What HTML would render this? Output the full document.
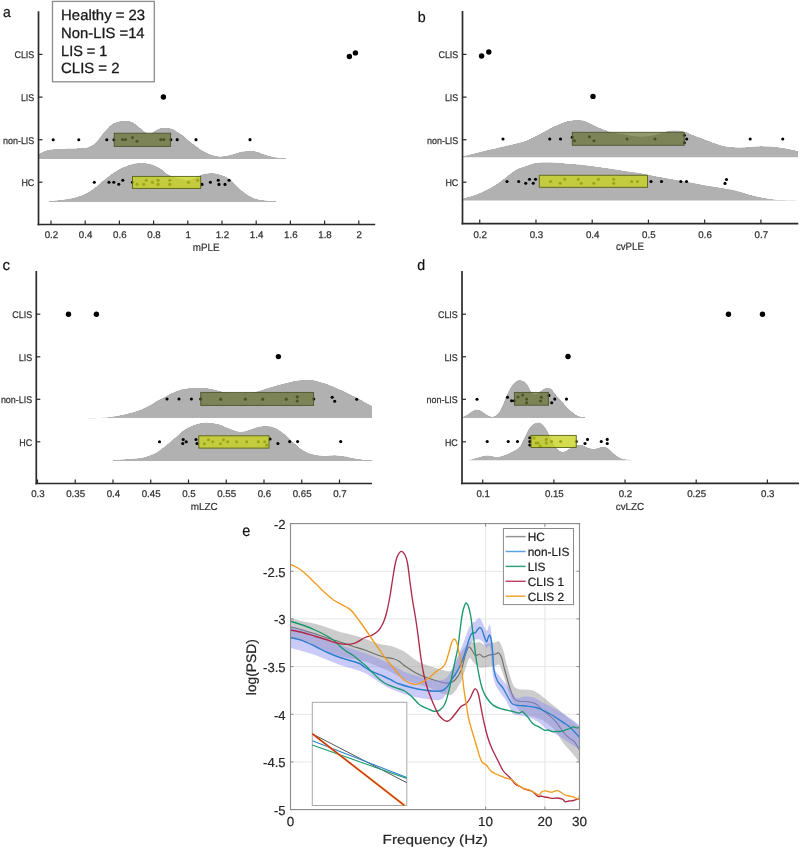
<!DOCTYPE html>
<html><head><meta charset="utf-8"><title>Figure</title>
<style>
html,body{margin:0;padding:0;background:#fff;}
body{width:800px;height:848px;overflow:hidden;}
svg{display:block;font-family:"Liberation Sans", sans-serif;will-change:transform;text-rendering:geometricPrecision;filter:blur(0.3px);}
</style></head><body>
<svg width="800" height="848" viewBox="0 0 800 848">
<rect width="800" height="848" fill="#fff"/>
<text transform="translate(3.1 16.9) scale(0.930 1)" font-size="15" fill="#111" text-anchor="start" stroke="#111" stroke-width="0.2">a</text>
<path d="M38.5 158.7 L38.5 154.5 C39.25 154.08 41.42 152.72 43 152 C44.58 151.28 46.33 150.62 48 150.2 C49.67 149.78 51 149.7 53 149.5 C55 149.3 57.17 149.13 60 149 C62.83 148.87 66.67 148.8 70 148.7 C73.33 148.6 77.33 148.52 80 148.4 C82.67 148.28 84.33 148.32 86 148 C87.67 147.68 88.83 147 90 146.5 C91.17 146 92 145.67 93 145 C94 144.33 95 143.5 96 142.5 C97 141.5 98 140.25 99 139 C100 137.75 101 136.25 102 135 C103 133.75 104 132.67 105 131.5 C106 130.33 107 129.05 108 128 C109 126.95 110 126 111 125.2 C112 124.4 112.83 123.77 114 123.2 C115.17 122.63 116.33 122.17 118 121.8 C119.67 121.43 122 121.05 124 121 C126 120.95 128.17 121 130 121.5 C131.83 122 133.33 122.92 135 124 C136.67 125.08 138.33 126.67 140 128 C141.67 129.33 143.33 131 145 132 C146.67 133 148.33 134.17 150 134 C151.67 133.83 153.33 131.92 155 131 C156.67 130.08 158.33 129 160 128.5 C161.67 128 163.33 128.02 165 128 C166.67 127.98 168.67 128.18 170 128.4 C171.33 128.62 172 128.83 173 129.3 C174 129.78 175 130.63 176 131.25 C177 131.87 178 132.38 179 133 C180 133.62 181 134.29 182 135 C183 135.71 184 136.38 185 137.25 C186 138.12 187 139.38 188 140.25 C189 141.12 190 141.75 191 142.5 C192 143.25 193 144 194 144.75 C195 145.5 196 146.25 197 147 C198 147.75 198.67 148.38 200 149.25 C201.33 150.12 203.33 151.38 205 152.25 C206.67 153.12 208.33 153.88 210 154.5 C211.67 155.12 213.33 155.62 215 156 C216.67 156.38 218.33 156.7 220 156.75 C221.67 156.8 223.33 156.55 225 156.3 C226.67 156.05 228.33 155.68 230 155.25 C231.67 154.82 233.33 154.25 235 153.75 C236.67 153.25 238.33 152.62 240 152.25 C241.67 151.88 243.33 151.68 245 151.5 C246.67 151.32 248.33 151.2 250 151.2 C251.67 151.2 253.33 151.2 255 151.5 C256.67 151.8 258.33 152.45 260 153 C261.67 153.55 263.33 154.25 265 154.8 C266.67 155.35 268.33 155.85 270 156.3 C271.67 156.75 273.33 157.22 275 157.5 C276.67 157.78 278.17 157.83 280 158 C281.83 158.17 285 158.42 286 158.5 L286 158.7 Z" fill="#b1b1b1"/>
<path d="M38.5 158.7 L38.5 154.5 C39.25 154.08 41.42 152.72 43 152 C44.58 151.28 46.33 150.62 48 150.2 C49.67 149.78 51 149.7 53 149.5 C55 149.3 57.17 149.13 60 149 C62.83 148.87 66.67 148.8 70 148.7 C73.33 148.6 77.33 148.52 80 148.4 C82.67 148.28 84.33 148.32 86 148 C87.67 147.68 88.83 147 90 146.5 C91.17 146 92 145.67 93 145 C94 144.33 95 143.5 96 142.5 C97 141.5 98 140.25 99 139 C100 137.75 101 136.25 102 135 C103 133.75 104 132.67 105 131.5 C106 130.33 107 129.05 108 128 C109 126.95 110 126 111 125.2 C112 124.4 112.83 123.77 114 123.2 C115.17 122.63 116.33 122.17 118 121.8 C119.67 121.43 122 121.05 124 121 C126 120.95 128.17 121 130 121.5 C131.83 122 133.33 122.92 135 124 C136.67 125.08 138.33 126.67 140 128 C141.67 129.33 143.33 131 145 132 C146.67 133 148.33 134.17 150 134 C151.67 133.83 153.33 131.92 155 131 C156.67 130.08 158.33 129 160 128.5 C161.67 128 163.33 128.02 165 128 C166.67 127.98 168.67 128.18 170 128.4 C171.33 128.62 172 128.83 173 129.3 C174 129.78 175 130.63 176 131.25 C177 131.87 178 132.38 179 133 C180 133.62 181 134.29 182 135 C183 135.71 184 136.38 185 137.25 C186 138.12 187 139.38 188 140.25 C189 141.12 190 141.75 191 142.5 C192 143.25 193 144 194 144.75 C195 145.5 196 146.25 197 147 C198 147.75 198.67 148.38 200 149.25 C201.33 150.12 203.33 151.38 205 152.25 C206.67 153.12 208.33 153.88 210 154.5 C211.67 155.12 213.33 155.62 215 156 C216.67 156.38 218.33 156.7 220 156.75 C221.67 156.8 223.33 156.55 225 156.3 C226.67 156.05 228.33 155.68 230 155.25 C231.67 154.82 233.33 154.25 235 153.75 C236.67 153.25 238.33 152.62 240 152.25 C241.67 151.88 243.33 151.68 245 151.5 C246.67 151.32 248.33 151.2 250 151.2 C251.67 151.2 253.33 151.2 255 151.5 C256.67 151.8 258.33 152.45 260 153 C261.67 153.55 263.33 154.25 265 154.8 C266.67 155.35 268.33 155.85 270 156.3 C271.67 156.75 273.33 157.22 275 157.5 C276.67 157.78 278.17 157.83 280 158 C281.83 158.17 285 158.42 286 158.5 L286 158.7 Z" fill="#b1b1b1" shape-rendering="crispEdges"/>
<path d="M49 201.5 L49 201.2 C50 201.13 53 200.97 55 200.8 C57 200.63 59 200.45 61 200.2 C63 199.95 65 199.62 67 199.3 C69 198.98 71 198.72 73 198.25 C75 197.78 77 197.18 79 196.5 C81 195.82 83 195.16 85 194.2 C87 193.24 89 192.07 91 190.75 C93 189.43 95 187.88 97 186.25 C99 184.62 101 182.68 103 181 C105 179.32 107 177.7 109 176.2 C111 174.7 113 173.28 115 172 C117 170.72 119 169.5 121 168.5 C123 167.5 125 166.72 127 166 C129 165.28 131 164.65 133 164.2 C135 163.75 137 163.45 139 163.3 C141 163.15 143 163.1 145 163.3 C147 163.5 149 163.93 151 164.5 C153 165.07 155.17 165.87 157 166.75 C158.83 167.63 160.5 168.73 162 169.8 C163.5 170.88 164.67 172.23 166 173.2 C167.33 174.17 168.33 174.8 170 175.6 C171.67 176.4 174 177.35 176 178 C178 178.65 180 179.17 182 179.5 C184 179.83 186 180.15 188 180 C190 179.85 192 179.33 194 178.6 C196 177.87 198.17 176.35 200 175.6 C201.83 174.85 203 174.48 205 174.1 C207 173.72 209.83 173.27 212 173.3 C214.17 173.33 216 173.81 218 174.3 C220 174.79 222 175.38 224 176.25 C226 177.12 228.17 178.14 230 179.5 C231.83 180.86 233.33 182.78 235 184.4 C236.67 186.03 238.33 187.77 240 189.25 C241.67 190.73 243.33 192.08 245 193.3 C246.67 194.53 248.33 195.7 250 196.6 C251.67 197.5 253 198.08 255 198.7 C257 199.32 259.5 199.9 262 200.3 C264.5 200.7 267.67 200.92 270 201.1 C272.33 201.28 275 201.35 276 201.4 L276 201.5 Z" fill="#b1b1b1"/>
<path d="M49 201.5 L49 201.2 C50 201.13 53 200.97 55 200.8 C57 200.63 59 200.45 61 200.2 C63 199.95 65 199.62 67 199.3 C69 198.98 71 198.72 73 198.25 C75 197.78 77 197.18 79 196.5 C81 195.82 83 195.16 85 194.2 C87 193.24 89 192.07 91 190.75 C93 189.43 95 187.88 97 186.25 C99 184.62 101 182.68 103 181 C105 179.32 107 177.7 109 176.2 C111 174.7 113 173.28 115 172 C117 170.72 119 169.5 121 168.5 C123 167.5 125 166.72 127 166 C129 165.28 131 164.65 133 164.2 C135 163.75 137 163.45 139 163.3 C141 163.15 143 163.1 145 163.3 C147 163.5 149 163.93 151 164.5 C153 165.07 155.17 165.87 157 166.75 C158.83 167.63 160.5 168.73 162 169.8 C163.5 170.88 164.67 172.23 166 173.2 C167.33 174.17 168.33 174.8 170 175.6 C171.67 176.4 174 177.35 176 178 C178 178.65 180 179.17 182 179.5 C184 179.83 186 180.15 188 180 C190 179.85 192 179.33 194 178.6 C196 177.87 198.17 176.35 200 175.6 C201.83 174.85 203 174.48 205 174.1 C207 173.72 209.83 173.27 212 173.3 C214.17 173.33 216 173.81 218 174.3 C220 174.79 222 175.38 224 176.25 C226 177.12 228.17 178.14 230 179.5 C231.83 180.86 233.33 182.78 235 184.4 C236.67 186.03 238.33 187.77 240 189.25 C241.67 190.73 243.33 192.08 245 193.3 C246.67 194.53 248.33 195.7 250 196.6 C251.67 197.5 253 198.08 255 198.7 C257 199.32 259.5 199.9 262 200.3 C264.5 200.7 267.67 200.92 270 201.1 C272.33 201.28 275 201.35 276 201.4 L276 201.5 Z" fill="#b1b1b1" shape-rendering="crispEdges"/>
<circle cx="53.2" cy="139.8" r="1.55" fill="#000"/>
<circle cx="78.8" cy="139.8" r="1.55" fill="#000"/>
<circle cx="106.8" cy="139.8" r="1.55" fill="#000"/>
<circle cx="114" cy="139.8" r="1.55" fill="#000"/>
<circle cx="122.5" cy="139.6" r="1.55" fill="#000"/>
<circle cx="125.5" cy="139.6" r="1.55" fill="#000"/>
<circle cx="132.5" cy="137.5" r="1.55" fill="#000"/>
<circle cx="137" cy="141.3" r="1.55" fill="#000"/>
<circle cx="160.75" cy="139.6" r="1.55" fill="#000"/>
<circle cx="163.75" cy="139.6" r="1.55" fill="#000"/>
<circle cx="170.75" cy="139.65" r="1.55" fill="#000"/>
<circle cx="177.2" cy="139.65" r="1.55" fill="#000"/>
<circle cx="196" cy="139.65" r="1.55" fill="#000"/>
<circle cx="250" cy="139.65" r="1.55" fill="#000"/>
<circle cx="94.3" cy="182.2" r="1.55" fill="#000"/>
<circle cx="109" cy="182.2" r="1.55" fill="#000"/>
<circle cx="113.8" cy="182.2" r="1.55" fill="#000"/>
<circle cx="118.75" cy="184.3" r="1.55" fill="#000"/>
<circle cx="122.8" cy="180.2" r="1.55" fill="#000"/>
<circle cx="132.5" cy="182.2" r="1.55" fill="#000"/>
<circle cx="137" cy="184.3" r="1.55" fill="#000"/>
<circle cx="143.75" cy="184.3" r="1.55" fill="#000"/>
<circle cx="146.25" cy="180.3" r="1.55" fill="#000"/>
<circle cx="152.4" cy="182.3" r="1.55" fill="#000"/>
<circle cx="158.1" cy="180.3" r="1.55" fill="#000"/>
<circle cx="158.1" cy="184.4" r="1.55" fill="#000"/>
<circle cx="169.8" cy="180.3" r="1.55" fill="#000"/>
<circle cx="169.8" cy="184.4" r="1.55" fill="#000"/>
<circle cx="188.5" cy="182.3" r="1.55" fill="#000"/>
<circle cx="197.6" cy="180.3" r="1.55" fill="#000"/>
<circle cx="202" cy="184.4" r="1.55" fill="#000"/>
<circle cx="210.4" cy="182.3" r="1.55" fill="#000"/>
<circle cx="218.25" cy="180.3" r="1.55" fill="#000"/>
<circle cx="219" cy="184.4" r="1.55" fill="#000"/>
<circle cx="225" cy="184.4" r="1.55" fill="#000"/>
<circle cx="229.1" cy="180.3" r="1.55" fill="#000"/>
<rect x="114.2" y="133.2" width="56.4" height="13.2" fill="rgba(102,114,53,0.72)" stroke="#4d5530" stroke-width="0.9"/>
<rect x="132.5" y="176.4" width="68.2" height="12" fill="rgba(200,210,30,0.78)" stroke="#5a6218" stroke-width="0.9"/>
<circle cx="349.4" cy="56.5" r="2.7" fill="#000"/>
<circle cx="355.4" cy="52.9" r="2.7" fill="#000"/>
<circle cx="163.4" cy="97" r="2.7" fill="#000"/>
<line x1="38.5" y1="11.3" x2="38.5" y2="225.35" stroke="#2a2a2a" stroke-width="1.7"/>
<line x1="37.65" y1="224.5" x2="375.2" y2="224.5" stroke="#2a2a2a" stroke-width="1.7"/>
<line x1="51" y1="224.5" x2="51" y2="220.5" stroke="#2a2a2a" stroke-width="1.2"/>
<text transform="translate(51.4 237.8) scale(1.000 1)" font-size="9.7" fill="#333" text-anchor="middle" stroke="#333" stroke-width="0.25">0.2</text>
<line x1="85.2" y1="224.5" x2="85.2" y2="220.5" stroke="#2a2a2a" stroke-width="1.2"/>
<text transform="translate(85.6 237.8) scale(1.000 1)" font-size="9.7" fill="#333" text-anchor="middle" stroke="#333" stroke-width="0.25">0.4</text>
<line x1="119.4" y1="224.5" x2="119.4" y2="220.5" stroke="#2a2a2a" stroke-width="1.2"/>
<text transform="translate(119.8 237.8) scale(1.000 1)" font-size="9.7" fill="#333" text-anchor="middle" stroke="#333" stroke-width="0.25">0.6</text>
<line x1="153.6" y1="224.5" x2="153.6" y2="220.5" stroke="#2a2a2a" stroke-width="1.2"/>
<text transform="translate(154 237.8) scale(1.000 1)" font-size="9.7" fill="#333" text-anchor="middle" stroke="#333" stroke-width="0.25">0.8</text>
<line x1="187.8" y1="224.5" x2="187.8" y2="220.5" stroke="#2a2a2a" stroke-width="1.2"/>
<text transform="translate(188.2 237.8) scale(1.000 1)" font-size="9.7" fill="#333" text-anchor="middle" stroke="#333" stroke-width="0.25">1</text>
<line x1="222" y1="224.5" x2="222" y2="220.5" stroke="#2a2a2a" stroke-width="1.2"/>
<text transform="translate(222.4 237.8) scale(1.000 1)" font-size="9.7" fill="#333" text-anchor="middle" stroke="#333" stroke-width="0.25">1.2</text>
<line x1="256.2" y1="224.5" x2="256.2" y2="220.5" stroke="#2a2a2a" stroke-width="1.2"/>
<text transform="translate(256.6 237.8) scale(1.000 1)" font-size="9.7" fill="#333" text-anchor="middle" stroke="#333" stroke-width="0.25">1.4</text>
<line x1="290.4" y1="224.5" x2="290.4" y2="220.5" stroke="#2a2a2a" stroke-width="1.2"/>
<text transform="translate(290.8 237.8) scale(1.000 1)" font-size="9.7" fill="#333" text-anchor="middle" stroke="#333" stroke-width="0.25">1.6</text>
<line x1="324.6" y1="224.5" x2="324.6" y2="220.5" stroke="#2a2a2a" stroke-width="1.2"/>
<text transform="translate(325 237.8) scale(1.000 1)" font-size="9.7" fill="#333" text-anchor="middle" stroke="#333" stroke-width="0.25">1.8</text>
<line x1="358.8" y1="224.5" x2="358.8" y2="220.5" stroke="#2a2a2a" stroke-width="1.2"/>
<text transform="translate(359.2 237.8) scale(1.000 1)" font-size="9.7" fill="#333" text-anchor="middle" stroke="#333" stroke-width="0.25">2</text>
<line x1="38.5" y1="54.4" x2="42.5" y2="54.4" stroke="#2a2a2a" stroke-width="1.2"/>
<text transform="translate(34.3 58.3) scale(0.920 1)" font-size="9.7" fill="#333" text-anchor="end" stroke="#333" stroke-width="0.25">CLIS</text>
<line x1="38.5" y1="97.1" x2="42.5" y2="97.1" stroke="#2a2a2a" stroke-width="1.2"/>
<text transform="translate(34.3 101) scale(0.920 1)" font-size="9.7" fill="#333" text-anchor="end" stroke="#333" stroke-width="0.25">LIS</text>
<line x1="38.5" y1="139.7" x2="42.5" y2="139.7" stroke="#2a2a2a" stroke-width="1.2"/>
<text transform="translate(34.3 143.6) scale(0.920 1)" font-size="9.7" fill="#333" text-anchor="end" stroke="#333" stroke-width="0.25">non-LIS</text>
<line x1="38.5" y1="182.2" x2="42.5" y2="182.2" stroke="#2a2a2a" stroke-width="1.2"/>
<text transform="translate(34.3 186.1) scale(0.920 1)" font-size="9.7" fill="#333" text-anchor="end" stroke="#333" stroke-width="0.25">HC</text>
<text transform="translate(192.8 250.6) scale(0.928 1)" font-size="10.6" fill="#333" text-anchor="start" stroke="#333" stroke-width="0.2">mPLE</text>
<rect x="52.5" y="1.4" width="101.8" height="80.4" fill="#fff" stroke="#8c8c8c" stroke-width="1.3"/>
<text transform="translate(61.1 19.7) scale(1.006 1)" font-size="14.8" fill="#1a1a1a" text-anchor="start" stroke="#1a1a1a" stroke-width="0.3">Healthy = 23</text>
<text transform="translate(61.1 37.8) scale(1.000 1)" font-size="14.8" fill="#1a1a1a" text-anchor="start" stroke="#1a1a1a" stroke-width="0.3">Non-LIS =14</text>
<text transform="translate(61.1 55.6) scale(0.979 1)" font-size="14.8" fill="#1a1a1a" text-anchor="start" stroke="#1a1a1a" stroke-width="0.3">LIS = 1</text>
<text transform="translate(61.1 73.2) scale(1.007 1)" font-size="14.8" fill="#1a1a1a" text-anchor="start" stroke="#1a1a1a" stroke-width="0.3">CLIS = 2</text>
<text transform="translate(417.7 21.8) scale(0.950 1)" font-size="15" fill="#111" text-anchor="start" stroke="#111" stroke-width="0.2">b</text>
<path d="M462.5 157.2 L462.5 156.4 C464.08 156.05 469.08 155 472 154.3 C474.92 153.6 477 152.95 480 152.2 C483 151.45 486.67 150.58 490 149.8 C493.33 149.02 496.67 148.25 500 147.5 C503.33 146.75 506.67 146.09 510 145.3 C513.33 144.51 517.17 143.55 520 142.75 C522.83 141.95 524.5 141.5 527 140.5 C529.5 139.5 532.5 138 535 136.75 C537.5 135.5 539.67 134.25 542 133 C544.33 131.75 546.83 130.38 549 129.25 C551.17 128.12 552.83 127.25 555 126.25 C557.17 125.25 559.83 124.08 562 123.25 C564.17 122.42 565.83 121.8 568 121.3 C570.17 120.8 572.67 120.37 575 120.25 C577.33 120.13 579.83 120.21 582 120.6 C584.17 120.99 586 121.78 588 122.6 C590 123.42 592 124.55 594 125.5 C596 126.45 598 127.45 600 128.3 C602 129.15 604.17 129.92 606 130.6 C607.83 131.28 608.25 131.78 611 132.4 C613.75 133.02 618.83 133.65 622.5 134.3 C626.17 134.95 629.75 135.89 633 136.3 C636.25 136.71 639 136.8 642 136.75 C645 136.7 648 136.5 651 136 C654 135.5 657.17 134.55 660 133.75 C662.83 132.95 665.5 131.7 668 131.2 C670.5 130.7 672.83 130.75 675 130.75 C677.17 130.75 679 130.89 681 131.2 C683 131.51 685.5 132.1 687 132.6 C688.5 133.1 688.67 133.63 690 134.2 C691.33 134.77 693.33 135.4 695 136 C696.67 136.6 698.33 137.18 700 137.8 C701.67 138.43 703.33 139.1 705 139.75 C706.67 140.4 708.33 141.07 710 141.7 C711.67 142.32 713.33 142.9 715 143.5 C716.67 144.1 718.33 144.8 720 145.3 C721.67 145.8 723.33 146.18 725 146.5 C726.67 146.82 727.5 147.05 730 147.25 C732.5 147.45 736.67 147.7 740 147.7 C743.33 147.7 746.67 147.45 750 147.25 C753.33 147.05 756.67 146.57 760 146.5 C763.33 146.43 766.67 146.6 770 146.8 C773.33 147 776.67 147.25 780 147.7 C783.33 148.15 787.04 148.92 790 149.5 C792.96 150.08 796.46 150.92 797.75 151.2 L797.75 157.2 Z" fill="#b1b1b1"/>
<path d="M462.5 157.2 L462.5 156.4 C464.08 156.05 469.08 155 472 154.3 C474.92 153.6 477 152.95 480 152.2 C483 151.45 486.67 150.58 490 149.8 C493.33 149.02 496.67 148.25 500 147.5 C503.33 146.75 506.67 146.09 510 145.3 C513.33 144.51 517.17 143.55 520 142.75 C522.83 141.95 524.5 141.5 527 140.5 C529.5 139.5 532.5 138 535 136.75 C537.5 135.5 539.67 134.25 542 133 C544.33 131.75 546.83 130.38 549 129.25 C551.17 128.12 552.83 127.25 555 126.25 C557.17 125.25 559.83 124.08 562 123.25 C564.17 122.42 565.83 121.8 568 121.3 C570.17 120.8 572.67 120.37 575 120.25 C577.33 120.13 579.83 120.21 582 120.6 C584.17 120.99 586 121.78 588 122.6 C590 123.42 592 124.55 594 125.5 C596 126.45 598 127.45 600 128.3 C602 129.15 604.17 129.92 606 130.6 C607.83 131.28 608.25 131.78 611 132.4 C613.75 133.02 618.83 133.65 622.5 134.3 C626.17 134.95 629.75 135.89 633 136.3 C636.25 136.71 639 136.8 642 136.75 C645 136.7 648 136.5 651 136 C654 135.5 657.17 134.55 660 133.75 C662.83 132.95 665.5 131.7 668 131.2 C670.5 130.7 672.83 130.75 675 130.75 C677.17 130.75 679 130.89 681 131.2 C683 131.51 685.5 132.1 687 132.6 C688.5 133.1 688.67 133.63 690 134.2 C691.33 134.77 693.33 135.4 695 136 C696.67 136.6 698.33 137.18 700 137.8 C701.67 138.43 703.33 139.1 705 139.75 C706.67 140.4 708.33 141.07 710 141.7 C711.67 142.32 713.33 142.9 715 143.5 C716.67 144.1 718.33 144.8 720 145.3 C721.67 145.8 723.33 146.18 725 146.5 C726.67 146.82 727.5 147.05 730 147.25 C732.5 147.45 736.67 147.7 740 147.7 C743.33 147.7 746.67 147.45 750 147.25 C753.33 147.05 756.67 146.57 760 146.5 C763.33 146.43 766.67 146.6 770 146.8 C773.33 147 776.67 147.25 780 147.7 C783.33 148.15 787.04 148.92 790 149.5 C792.96 150.08 796.46 150.92 797.75 151.2 L797.75 157.2 Z" fill="#b1b1b1" shape-rendering="crispEdges"/>
<path d="M462.5 200.4 L462.5 199 C463.42 198.72 466.08 197.88 468 197.3 C469.92 196.72 472 196.18 474 195.5 C476 194.82 478 194.12 480 193.25 C482 192.38 484 191.25 486 190.25 C488 189.25 490 188.38 492 187.25 C494 186.12 496 184.88 498 183.5 C500 182.12 502 180.55 504 179 C506 177.45 508 175.7 510 174.2 C512 172.7 514 171.12 516 170 C518 168.88 520 168.27 522 167.5 C524 166.73 526 166.07 528 165.4 C530 164.73 532 163.93 534 163.5 C536 163.07 538 162.97 540 162.8 C542 162.63 543.5 162.5 546 162.5 C548.5 162.5 552 162.63 555 162.8 C558 162.97 561 163.25 564 163.5 C567 163.75 570 164.03 573 164.3 C576 164.57 578.33 164.7 582 165.1 C585.67 165.5 590.33 166.08 595 166.7 C599.67 167.32 605 168.05 610 168.8 C615 169.55 620 170.45 625 171.2 C630 171.95 635.83 172.62 640 173.3 C644.17 173.98 646.67 174.6 650 175.25 C653.33 175.9 656.67 176.57 660 177.2 C663.33 177.82 666.67 178.4 670 179 C673.33 179.6 676.67 180.2 680 180.8 C683.33 181.4 686.67 181.97 690 182.6 C693.33 183.23 696.67 183.98 700 184.6 C703.33 185.22 706.67 185.75 710 186.3 C713.33 186.85 716.67 187.35 720 187.9 C723.33 188.45 726.67 188.92 730 189.6 C733.33 190.28 736.67 191.1 740 192 C743.33 192.9 746.67 194.1 750 195 C753.33 195.9 756.67 196.7 760 197.4 C763.33 198.1 766.67 198.75 770 199.2 C773.33 199.65 775.5 199.9 780 200.1 C784.5 200.3 794.17 200.35 797 200.4 L797 200.4 Z" fill="#b1b1b1"/>
<path d="M462.5 200.4 L462.5 199 C463.42 198.72 466.08 197.88 468 197.3 C469.92 196.72 472 196.18 474 195.5 C476 194.82 478 194.12 480 193.25 C482 192.38 484 191.25 486 190.25 C488 189.25 490 188.38 492 187.25 C494 186.12 496 184.88 498 183.5 C500 182.12 502 180.55 504 179 C506 177.45 508 175.7 510 174.2 C512 172.7 514 171.12 516 170 C518 168.88 520 168.27 522 167.5 C524 166.73 526 166.07 528 165.4 C530 164.73 532 163.93 534 163.5 C536 163.07 538 162.97 540 162.8 C542 162.63 543.5 162.5 546 162.5 C548.5 162.5 552 162.63 555 162.8 C558 162.97 561 163.25 564 163.5 C567 163.75 570 164.03 573 164.3 C576 164.57 578.33 164.7 582 165.1 C585.67 165.5 590.33 166.08 595 166.7 C599.67 167.32 605 168.05 610 168.8 C615 169.55 620 170.45 625 171.2 C630 171.95 635.83 172.62 640 173.3 C644.17 173.98 646.67 174.6 650 175.25 C653.33 175.9 656.67 176.57 660 177.2 C663.33 177.82 666.67 178.4 670 179 C673.33 179.6 676.67 180.2 680 180.8 C683.33 181.4 686.67 181.97 690 182.6 C693.33 183.23 696.67 183.98 700 184.6 C703.33 185.22 706.67 185.75 710 186.3 C713.33 186.85 716.67 187.35 720 187.9 C723.33 188.45 726.67 188.92 730 189.6 C733.33 190.28 736.67 191.1 740 192 C743.33 192.9 746.67 194.1 750 195 C753.33 195.9 756.67 196.7 760 197.4 C763.33 198.1 766.67 198.75 770 199.2 C773.33 199.65 775.5 199.9 780 200.1 C784.5 200.3 794.17 200.35 797 200.4 L797 200.4 Z" fill="#b1b1b1" shape-rendering="crispEdges"/>
<circle cx="503" cy="139" r="1.55" fill="#000"/>
<circle cx="549.75" cy="139" r="1.55" fill="#000"/>
<circle cx="560.5" cy="139" r="1.55" fill="#000"/>
<circle cx="572.25" cy="137.2" r="1.55" fill="#000"/>
<circle cx="574.5" cy="140.8" r="1.55" fill="#000"/>
<circle cx="589.5" cy="136.75" r="1.55" fill="#000"/>
<circle cx="594" cy="140.8" r="1.55" fill="#000"/>
<circle cx="627" cy="139" r="1.55" fill="#000"/>
<circle cx="655" cy="139" r="1.55" fill="#000"/>
<circle cx="684.3" cy="135.25" r="1.55" fill="#000"/>
<circle cx="684.3" cy="142.75" r="1.55" fill="#000"/>
<circle cx="686.7" cy="139" r="1.55" fill="#000"/>
<circle cx="750.2" cy="139" r="1.55" fill="#000"/>
<circle cx="782.75" cy="139" r="1.55" fill="#000"/>
<circle cx="507" cy="181.5" r="1.55" fill="#000"/>
<circle cx="518.7" cy="181.5" r="1.55" fill="#000"/>
<circle cx="525.75" cy="183.2" r="1.55" fill="#000"/>
<circle cx="529.5" cy="179.3" r="1.55" fill="#000"/>
<circle cx="533.25" cy="183.2" r="1.55" fill="#000"/>
<circle cx="535.5" cy="179.3" r="1.55" fill="#000"/>
<circle cx="550.5" cy="181.5" r="1.55" fill="#000"/>
<circle cx="560.25" cy="183.2" r="1.55" fill="#000"/>
<circle cx="564.75" cy="179.3" r="1.55" fill="#000"/>
<circle cx="578.25" cy="179.3" r="1.55" fill="#000"/>
<circle cx="581.2" cy="183.2" r="1.55" fill="#000"/>
<circle cx="593.8" cy="183.2" r="1.55" fill="#000"/>
<circle cx="598.3" cy="179.3" r="1.55" fill="#000"/>
<circle cx="613.75" cy="179.3" r="1.55" fill="#000"/>
<circle cx="613.75" cy="183.2" r="1.55" fill="#000"/>
<circle cx="631.75" cy="181.5" r="1.55" fill="#000"/>
<circle cx="637.5" cy="181.5" r="1.55" fill="#000"/>
<circle cx="651" cy="181.5" r="1.55" fill="#000"/>
<circle cx="661.5" cy="181.5" r="1.55" fill="#000"/>
<circle cx="680.8" cy="181.5" r="1.55" fill="#000"/>
<circle cx="686.5" cy="181.5" r="1.55" fill="#000"/>
<circle cx="726.5" cy="179.5" r="1.55" fill="#000"/>
<circle cx="725" cy="183.4" r="1.55" fill="#000"/>
<rect x="572.25" y="132.3" width="111.95" height="13" fill="rgba(102,114,53,0.72)" stroke="#4d5530" stroke-width="0.9"/>
<rect x="539.25" y="175.25" width="108.25" height="12.05" fill="rgba(200,210,30,0.78)" stroke="#5a6218" stroke-width="0.9"/>
<circle cx="481.6" cy="56" r="2.7" fill="#000"/>
<circle cx="488.8" cy="52" r="2.7" fill="#000"/>
<circle cx="593" cy="96.4" r="2.7" fill="#000"/>
<line x1="462.5" y1="11" x2="462.5" y2="224.45" stroke="#2a2a2a" stroke-width="1.7"/>
<line x1="461.65" y1="223.6" x2="798.3" y2="223.6" stroke="#2a2a2a" stroke-width="1.7"/>
<line x1="479.75" y1="223.6" x2="479.75" y2="219.6" stroke="#2a2a2a" stroke-width="1.2"/>
<text transform="translate(480.15 237.5) scale(1.000 1)" font-size="9.7" fill="#333" text-anchor="middle" stroke="#333" stroke-width="0.25">0.2</text>
<line x1="535.98" y1="223.6" x2="535.98" y2="219.6" stroke="#2a2a2a" stroke-width="1.2"/>
<text transform="translate(536.38 237.5) scale(1.000 1)" font-size="9.7" fill="#333" text-anchor="middle" stroke="#333" stroke-width="0.25">0.3</text>
<line x1="592.21" y1="223.6" x2="592.21" y2="219.6" stroke="#2a2a2a" stroke-width="1.2"/>
<text transform="translate(592.61 237.5) scale(1.000 1)" font-size="9.7" fill="#333" text-anchor="middle" stroke="#333" stroke-width="0.25">0.4</text>
<line x1="648.44" y1="223.6" x2="648.44" y2="219.6" stroke="#2a2a2a" stroke-width="1.2"/>
<text transform="translate(648.84 237.5) scale(1.000 1)" font-size="9.7" fill="#333" text-anchor="middle" stroke="#333" stroke-width="0.25">0.5</text>
<line x1="704.67" y1="223.6" x2="704.67" y2="219.6" stroke="#2a2a2a" stroke-width="1.2"/>
<text transform="translate(705.07 237.5) scale(1.000 1)" font-size="9.7" fill="#333" text-anchor="middle" stroke="#333" stroke-width="0.25">0.6</text>
<line x1="760.9" y1="223.6" x2="760.9" y2="219.6" stroke="#2a2a2a" stroke-width="1.2"/>
<text transform="translate(761.3 237.5) scale(1.000 1)" font-size="9.7" fill="#333" text-anchor="middle" stroke="#333" stroke-width="0.25">0.7</text>
<line x1="462.5" y1="54.4" x2="466.5" y2="54.4" stroke="#2a2a2a" stroke-width="1.2"/>
<text transform="translate(458.3 58.3) scale(0.920 1)" font-size="9.7" fill="#333" text-anchor="end" stroke="#333" stroke-width="0.25">CLIS</text>
<line x1="462.5" y1="97.1" x2="466.5" y2="97.1" stroke="#2a2a2a" stroke-width="1.2"/>
<text transform="translate(458.3 101) scale(0.920 1)" font-size="9.7" fill="#333" text-anchor="end" stroke="#333" stroke-width="0.25">LIS</text>
<line x1="462.5" y1="139.7" x2="466.5" y2="139.7" stroke="#2a2a2a" stroke-width="1.2"/>
<text transform="translate(458.3 143.6) scale(0.920 1)" font-size="9.7" fill="#333" text-anchor="end" stroke="#333" stroke-width="0.25">non-LIS</text>
<line x1="462.5" y1="182.2" x2="466.5" y2="182.2" stroke="#2a2a2a" stroke-width="1.2"/>
<text transform="translate(458.3 186.1) scale(0.920 1)" font-size="9.7" fill="#333" text-anchor="end" stroke="#333" stroke-width="0.25">HC</text>
<text transform="translate(615.9 249.9) scale(0.914 1)" font-size="10.6" fill="#333" text-anchor="start" stroke="#333" stroke-width="0.2">cvPLE</text>
<text transform="translate(2.4 269.5) scale(1.000 1)" font-size="15" fill="#111" text-anchor="start" stroke="#111" stroke-width="0.2">c</text>
<path d="M88 418 L88 418.3 C90 418.25 96.33 418.17 100 418 C103.67 417.83 107.33 417.59 110 417.3 C112.67 417.01 114 416.6 116 416.25 C118 415.9 120 415.62 122 415.2 C124 414.77 126 414.2 128 413.7 C130 413.2 132 412.77 134 412.2 C136 411.62 138 411.07 140 410.25 C142 409.43 144 408.25 146 407.25 C148 406.25 150 405.38 152 404.25 C154 403.12 156 401.62 158 400.5 C160 399.38 162 398.55 164 397.5 C166 396.45 168 395.2 170 394.2 C172 393.2 174 392.28 176 391.5 C178 390.72 180 390 182 389.5 C184 389 186 388.75 188 388.5 C190 388.25 192 388.08 194 388 C196 387.92 198 387.97 200 388 C202 388.03 204 387.99 206 388.2 C208 388.41 210 388.82 212 389.25 C214 389.68 216 390.24 218 390.75 C220 391.26 221.67 391.88 224 392.3 C226.33 392.73 229 393.1 232 393.3 C235 393.5 239 393.55 242 393.5 C245 393.45 247.83 393.21 250 393 C252.17 392.79 253.33 392.62 255 392.25 C256.67 391.88 258.17 391.32 260 390.75 C261.83 390.18 264 389.43 266 388.8 C268 388.18 270 387.6 272 387 C274 386.4 276 385.75 278 385.2 C280 384.65 282 384.2 284 383.7 C286 383.2 288 382.65 290 382.2 C292 381.75 294 381.32 296 381 C298 380.68 300 380.45 302 380.3 C304 380.15 306 380.08 308 380.1 C310 380.12 312 380.05 314 380.4 C316 380.75 318.17 381.68 320 382.2 C321.83 382.72 323.33 382.95 325 383.5 C326.67 384.05 328.33 384.83 330 385.5 C331.67 386.17 333.33 386.78 335 387.5 C336.67 388.22 338.33 389.05 340 389.8 C341.67 390.55 343.33 391.22 345 392 C346.67 392.78 348.33 393.67 350 394.5 C351.67 395.33 353.33 396.17 355 397 C356.67 397.83 358.33 398.58 360 399.5 C361.67 400.42 363.03 401.42 365 402.5 C366.97 403.58 370.67 405.42 371.8 406 L371.8 418 Z" fill="#b1b1b1"/>
<path d="M88 418 L88 418.3 C90 418.25 96.33 418.17 100 418 C103.67 417.83 107.33 417.59 110 417.3 C112.67 417.01 114 416.6 116 416.25 C118 415.9 120 415.62 122 415.2 C124 414.77 126 414.2 128 413.7 C130 413.2 132 412.77 134 412.2 C136 411.62 138 411.07 140 410.25 C142 409.43 144 408.25 146 407.25 C148 406.25 150 405.38 152 404.25 C154 403.12 156 401.62 158 400.5 C160 399.38 162 398.55 164 397.5 C166 396.45 168 395.2 170 394.2 C172 393.2 174 392.28 176 391.5 C178 390.72 180 390 182 389.5 C184 389 186 388.75 188 388.5 C190 388.25 192 388.08 194 388 C196 387.92 198 387.97 200 388 C202 388.03 204 387.99 206 388.2 C208 388.41 210 388.82 212 389.25 C214 389.68 216 390.24 218 390.75 C220 391.26 221.67 391.88 224 392.3 C226.33 392.73 229 393.1 232 393.3 C235 393.5 239 393.55 242 393.5 C245 393.45 247.83 393.21 250 393 C252.17 392.79 253.33 392.62 255 392.25 C256.67 391.88 258.17 391.32 260 390.75 C261.83 390.18 264 389.43 266 388.8 C268 388.18 270 387.6 272 387 C274 386.4 276 385.75 278 385.2 C280 384.65 282 384.2 284 383.7 C286 383.2 288 382.65 290 382.2 C292 381.75 294 381.32 296 381 C298 380.68 300 380.45 302 380.3 C304 380.15 306 380.08 308 380.1 C310 380.12 312 380.05 314 380.4 C316 380.75 318.17 381.68 320 382.2 C321.83 382.72 323.33 382.95 325 383.5 C326.67 384.05 328.33 384.83 330 385.5 C331.67 386.17 333.33 386.78 335 387.5 C336.67 388.22 338.33 389.05 340 389.8 C341.67 390.55 343.33 391.22 345 392 C346.67 392.78 348.33 393.67 350 394.5 C351.67 395.33 353.33 396.17 355 397 C356.67 397.83 358.33 398.58 360 399.5 C361.67 400.42 363.03 401.42 365 402.5 C366.97 403.58 370.67 405.42 371.8 406 L371.8 418 Z" fill="#b1b1b1" shape-rendering="crispEdges"/>
<path d="M113 460.5 L113 460.2 C115 460.08 121.33 459.73 125 459.5 C128.67 459.27 132.5 459.02 135 458.8 C137.5 458.58 138.17 458.5 140 458.2 C141.83 457.9 144 457.57 146 457 C148 456.43 150 455.62 152 454.75 C154 453.88 156 453 158 451.75 C160 450.5 162 448.82 164 447.25 C166 445.68 168 443.98 170 442.3 C172 440.62 174 438.95 176 437.2 C178 435.45 180 433.38 182 431.8 C184 430.23 186 428.85 188 427.75 C190 426.65 192 425.91 194 425.2 C196 424.49 198 423.9 200 423.5 C202 423.1 204 422.84 206 422.8 C208 422.76 210 423 212 423.25 C214 423.5 216 423.76 218 424.3 C220 424.84 222 425.72 224 426.5 C226 427.28 228.17 428.25 230 429 C231.83 429.75 233.33 430.52 235 431 C236.67 431.48 238.33 431.82 240 431.9 C241.67 431.98 243.33 431.82 245 431.5 C246.67 431.18 248.33 430.57 250 430 C251.67 429.43 253.33 428.63 255 428.1 C256.67 427.57 258.33 427.11 260 426.8 C261.67 426.49 263.33 426.28 265 426.25 C266.67 426.22 268.33 426.29 270 426.6 C271.67 426.91 273.33 427.37 275 428.1 C276.67 428.83 278.33 429.9 280 431 C281.67 432.1 283.33 433.3 285 434.7 C286.67 436.1 288.33 437.85 290 439.4 C291.67 440.95 293.33 442.5 295 444 C296.67 445.5 298.33 447.13 300 448.4 C301.67 449.67 303.33 450.7 305 451.6 C306.67 452.5 308.33 453.23 310 453.8 C311.67 454.37 313.33 454.68 315 455 C316.67 455.32 318.33 455.55 320 455.7 C321.67 455.85 323.33 455.9 325 455.9 C326.67 455.9 328.33 455.77 330 455.7 C331.67 455.63 333.33 455.47 335 455.5 C336.67 455.53 338.33 455.72 340 455.9 C341.67 456.08 343.33 456.29 345 456.6 C346.67 456.91 348.33 457.4 350 457.75 C351.67 458.1 353.33 458.43 355 458.7 C356.67 458.97 358.33 459.18 360 459.4 C361.67 459.62 363 459.85 365 460 C367 460.15 370.83 460.25 372 460.3 L372 460.5 Z" fill="#b1b1b1"/>
<path d="M113 460.5 L113 460.2 C115 460.08 121.33 459.73 125 459.5 C128.67 459.27 132.5 459.02 135 458.8 C137.5 458.58 138.17 458.5 140 458.2 C141.83 457.9 144 457.57 146 457 C148 456.43 150 455.62 152 454.75 C154 453.88 156 453 158 451.75 C160 450.5 162 448.82 164 447.25 C166 445.68 168 443.98 170 442.3 C172 440.62 174 438.95 176 437.2 C178 435.45 180 433.38 182 431.8 C184 430.23 186 428.85 188 427.75 C190 426.65 192 425.91 194 425.2 C196 424.49 198 423.9 200 423.5 C202 423.1 204 422.84 206 422.8 C208 422.76 210 423 212 423.25 C214 423.5 216 423.76 218 424.3 C220 424.84 222 425.72 224 426.5 C226 427.28 228.17 428.25 230 429 C231.83 429.75 233.33 430.52 235 431 C236.67 431.48 238.33 431.82 240 431.9 C241.67 431.98 243.33 431.82 245 431.5 C246.67 431.18 248.33 430.57 250 430 C251.67 429.43 253.33 428.63 255 428.1 C256.67 427.57 258.33 427.11 260 426.8 C261.67 426.49 263.33 426.28 265 426.25 C266.67 426.22 268.33 426.29 270 426.6 C271.67 426.91 273.33 427.37 275 428.1 C276.67 428.83 278.33 429.9 280 431 C281.67 432.1 283.33 433.3 285 434.7 C286.67 436.1 288.33 437.85 290 439.4 C291.67 440.95 293.33 442.5 295 444 C296.67 445.5 298.33 447.13 300 448.4 C301.67 449.67 303.33 450.7 305 451.6 C306.67 452.5 308.33 453.23 310 453.8 C311.67 454.37 313.33 454.68 315 455 C316.67 455.32 318.33 455.55 320 455.7 C321.67 455.85 323.33 455.9 325 455.9 C326.67 455.9 328.33 455.77 330 455.7 C331.67 455.63 333.33 455.47 335 455.5 C336.67 455.53 338.33 455.72 340 455.9 C341.67 456.08 343.33 456.29 345 456.6 C346.67 456.91 348.33 457.4 350 457.75 C351.67 458.1 353.33 458.43 355 458.7 C356.67 458.97 358.33 459.18 360 459.4 C361.67 459.62 363 459.85 365 460 C367 460.15 370.83 460.25 372 460.3 L372 460.5 Z" fill="#b1b1b1" shape-rendering="crispEdges"/>
<circle cx="167" cy="399" r="1.55" fill="#000"/>
<circle cx="179" cy="399" r="1.55" fill="#000"/>
<circle cx="191.4" cy="399" r="1.55" fill="#000"/>
<circle cx="200.75" cy="399" r="1.55" fill="#000"/>
<circle cx="220.7" cy="399.15" r="1.55" fill="#000"/>
<circle cx="245.4" cy="399.15" r="1.55" fill="#000"/>
<circle cx="262.7" cy="399.15" r="1.55" fill="#000"/>
<circle cx="286.25" cy="399.15" r="1.55" fill="#000"/>
<circle cx="297.2" cy="396.9" r="1.55" fill="#000"/>
<circle cx="297.2" cy="401" r="1.55" fill="#000"/>
<circle cx="313.7" cy="399" r="1.55" fill="#000"/>
<circle cx="332.2" cy="397.2" r="1.55" fill="#000"/>
<circle cx="334.7" cy="401.2" r="1.55" fill="#000"/>
<circle cx="356.7" cy="399.2" r="1.55" fill="#000"/>
<circle cx="159.5" cy="441.7" r="1.55" fill="#000"/>
<circle cx="183.2" cy="439.45" r="1.55" fill="#000"/>
<circle cx="182.75" cy="443.5" r="1.55" fill="#000"/>
<circle cx="186.2" cy="441.7" r="1.55" fill="#000"/>
<circle cx="196" cy="439.45" r="1.55" fill="#000"/>
<circle cx="197" cy="443.5" r="1.55" fill="#000"/>
<circle cx="204.3" cy="443.8" r="1.55" fill="#000"/>
<circle cx="208.5" cy="439.7" r="1.55" fill="#000"/>
<circle cx="212.7" cy="441.7" r="1.55" fill="#000"/>
<circle cx="220.5" cy="443.8" r="1.55" fill="#000"/>
<circle cx="223.5" cy="439.7" r="1.55" fill="#000"/>
<circle cx="227.7" cy="441.7" r="1.55" fill="#000"/>
<circle cx="236.7" cy="441.7" r="1.55" fill="#000"/>
<circle cx="246.7" cy="441.7" r="1.55" fill="#000"/>
<circle cx="258.3" cy="441.7" r="1.55" fill="#000"/>
<circle cx="264.7" cy="441.7" r="1.55" fill="#000"/>
<circle cx="266.7" cy="445" r="1.55" fill="#000"/>
<circle cx="270" cy="439" r="1.55" fill="#000"/>
<circle cx="277.9" cy="443.5" r="1.55" fill="#000"/>
<circle cx="289.7" cy="441.6" r="1.55" fill="#000"/>
<circle cx="297.6" cy="441.6" r="1.55" fill="#000"/>
<circle cx="340.7" cy="441.6" r="1.55" fill="#000"/>
<rect x="200.75" y="392.4" width="112.85" height="13" fill="rgba(102,114,53,0.72)" stroke="#4d5530" stroke-width="0.9"/>
<rect x="198.8" y="435.8" width="70.2" height="12.3" fill="rgba(200,210,30,0.78)" stroke="#5a6218" stroke-width="0.9"/>
<circle cx="68.5" cy="314.2" r="2.7" fill="#000"/>
<circle cx="96.4" cy="314.2" r="2.7" fill="#000"/>
<circle cx="278.4" cy="356.6" r="2.7" fill="#000"/>
<line x1="36.3" y1="271" x2="36.3" y2="484.35" stroke="#2a2a2a" stroke-width="1.7"/>
<line x1="35.45" y1="483.5" x2="372" y2="483.5" stroke="#2a2a2a" stroke-width="1.7"/>
<line x1="37.5" y1="483.5" x2="37.5" y2="479.5" stroke="#2a2a2a" stroke-width="1.2"/>
<text transform="translate(37.9 496.9) scale(1.000 1)" font-size="9.7" fill="#333" text-anchor="middle" stroke="#333" stroke-width="0.25">0.3</text>
<line x1="75.25" y1="483.5" x2="75.25" y2="479.5" stroke="#2a2a2a" stroke-width="1.2"/>
<text transform="translate(75.65 496.9) scale(1.000 1)" font-size="9.7" fill="#333" text-anchor="middle" stroke="#333" stroke-width="0.25">0.35</text>
<line x1="113" y1="483.5" x2="113" y2="479.5" stroke="#2a2a2a" stroke-width="1.2"/>
<text transform="translate(113.4 496.9) scale(1.000 1)" font-size="9.7" fill="#333" text-anchor="middle" stroke="#333" stroke-width="0.25">0.4</text>
<line x1="150.75" y1="483.5" x2="150.75" y2="479.5" stroke="#2a2a2a" stroke-width="1.2"/>
<text transform="translate(151.15 496.9) scale(1.000 1)" font-size="9.7" fill="#333" text-anchor="middle" stroke="#333" stroke-width="0.25">0.45</text>
<line x1="188.5" y1="483.5" x2="188.5" y2="479.5" stroke="#2a2a2a" stroke-width="1.2"/>
<text transform="translate(188.9 496.9) scale(1.000 1)" font-size="9.7" fill="#333" text-anchor="middle" stroke="#333" stroke-width="0.25">0.5</text>
<line x1="226.25" y1="483.5" x2="226.25" y2="479.5" stroke="#2a2a2a" stroke-width="1.2"/>
<text transform="translate(226.65 496.9) scale(1.000 1)" font-size="9.7" fill="#333" text-anchor="middle" stroke="#333" stroke-width="0.25">0.55</text>
<line x1="264" y1="483.5" x2="264" y2="479.5" stroke="#2a2a2a" stroke-width="1.2"/>
<text transform="translate(264.4 496.9) scale(1.000 1)" font-size="9.7" fill="#333" text-anchor="middle" stroke="#333" stroke-width="0.25">0.6</text>
<line x1="301.75" y1="483.5" x2="301.75" y2="479.5" stroke="#2a2a2a" stroke-width="1.2"/>
<text transform="translate(302.15 496.9) scale(1.000 1)" font-size="9.7" fill="#333" text-anchor="middle" stroke="#333" stroke-width="0.25">0.65</text>
<line x1="339.5" y1="483.5" x2="339.5" y2="479.5" stroke="#2a2a2a" stroke-width="1.2"/>
<text transform="translate(339.9 496.9) scale(1.000 1)" font-size="9.7" fill="#333" text-anchor="middle" stroke="#333" stroke-width="0.25">0.7</text>
<line x1="36.3" y1="314.2" x2="40.3" y2="314.2" stroke="#2a2a2a" stroke-width="1.2"/>
<text transform="translate(32.1 318.1) scale(0.920 1)" font-size="9.7" fill="#333" text-anchor="end" stroke="#333" stroke-width="0.25">CLIS</text>
<line x1="36.3" y1="356.8" x2="40.3" y2="356.8" stroke="#2a2a2a" stroke-width="1.2"/>
<text transform="translate(32.1 360.7) scale(0.920 1)" font-size="9.7" fill="#333" text-anchor="end" stroke="#333" stroke-width="0.25">LIS</text>
<line x1="36.3" y1="399.3" x2="40.3" y2="399.3" stroke="#2a2a2a" stroke-width="1.2"/>
<text transform="translate(32.1 403.2) scale(0.920 1)" font-size="9.7" fill="#333" text-anchor="end" stroke="#333" stroke-width="0.25">non-LIS</text>
<line x1="36.3" y1="441.8" x2="40.3" y2="441.8" stroke="#2a2a2a" stroke-width="1.2"/>
<text transform="translate(32.1 445.7) scale(0.920 1)" font-size="9.7" fill="#333" text-anchor="end" stroke="#333" stroke-width="0.25">HC</text>
<text transform="translate(190.7 509.8) scale(0.972 1)" font-size="10.2" fill="#333" text-anchor="start" stroke="#333" stroke-width="0.2">mLZC</text>
<text transform="translate(417.3 269.8) scale(0.950 1)" font-size="15" fill="#111" text-anchor="start" stroke="#111" stroke-width="0.2">d</text>
<path d="M462.5 417.6 L462.5 417.2 C463.08 416.92 464.92 416.08 466 415.5 C467.08 414.92 468 414.35 469 413.7 C470 413.05 471 412.18 472 411.6 C473 411.02 474.17 410.5 475 410.2 C475.83 409.9 476.17 409.77 477 409.8 C477.83 409.83 479 410 480 410.4 C481 410.8 482 411.53 483 412.2 C484 412.87 485 413.75 486 414.4 C487 415.05 488 415.68 489 416.1 C490 416.52 491 416.87 492 416.9 C493 416.93 494 416.82 495 416.3 C496 415.78 497 415.02 498 413.8 C499 412.58 500 410.88 501 409 C502 407.12 503 404.82 504 402.5 C505 400.18 506 397.35 507 395.1 C508 392.85 509 390.75 510 389 C511 387.25 512 385.82 513 384.6 C514 383.38 515 382.42 516 381.7 C517 380.98 518 380.45 519 380.3 C520 380.15 521 380.47 522 380.8 C523 381.13 524 381.43 525 382.3 C526 383.17 527 384.47 528 386 C529 387.53 529.83 390.03 531 391.5 C532.17 392.97 533.83 394.47 535 394.8 C536.17 395.13 537 394.13 538 393.5 C539 392.87 540 391.77 541 391 C542 390.23 542.92 389.4 544 388.9 C545.08 388.4 546.33 388 547.5 388 C548.67 388 549.92 388.17 551 388.9 C552.08 389.63 553 391.17 554 392.4 C555 393.63 556 395.13 557 396.3 C558 397.47 559 398.3 560 399.4 C561 400.5 562 401.73 563 402.9 C564 404.07 565 405.32 566 406.4 C567 407.48 568 408.47 569 409.4 C570 410.33 571 411.19 572 412 C573 412.81 574 413.58 575 414.25 C576 414.92 577 415.54 578 416 C579 416.46 579.83 416.75 581 417 C582.17 417.25 584.33 417.42 585 417.5 L585 417.6 Z" fill="#b1b1b1"/>
<path d="M462.5 417.6 L462.5 417.2 C463.08 416.92 464.92 416.08 466 415.5 C467.08 414.92 468 414.35 469 413.7 C470 413.05 471 412.18 472 411.6 C473 411.02 474.17 410.5 475 410.2 C475.83 409.9 476.17 409.77 477 409.8 C477.83 409.83 479 410 480 410.4 C481 410.8 482 411.53 483 412.2 C484 412.87 485 413.75 486 414.4 C487 415.05 488 415.68 489 416.1 C490 416.52 491 416.87 492 416.9 C493 416.93 494 416.82 495 416.3 C496 415.78 497 415.02 498 413.8 C499 412.58 500 410.88 501 409 C502 407.12 503 404.82 504 402.5 C505 400.18 506 397.35 507 395.1 C508 392.85 509 390.75 510 389 C511 387.25 512 385.82 513 384.6 C514 383.38 515 382.42 516 381.7 C517 380.98 518 380.45 519 380.3 C520 380.15 521 380.47 522 380.8 C523 381.13 524 381.43 525 382.3 C526 383.17 527 384.47 528 386 C529 387.53 529.83 390.03 531 391.5 C532.17 392.97 533.83 394.47 535 394.8 C536.17 395.13 537 394.13 538 393.5 C539 392.87 540 391.77 541 391 C542 390.23 542.92 389.4 544 388.9 C545.08 388.4 546.33 388 547.5 388 C548.67 388 549.92 388.17 551 388.9 C552.08 389.63 553 391.17 554 392.4 C555 393.63 556 395.13 557 396.3 C558 397.47 559 398.3 560 399.4 C561 400.5 562 401.73 563 402.9 C564 404.07 565 405.32 566 406.4 C567 407.48 568 408.47 569 409.4 C570 410.33 571 411.19 572 412 C573 412.81 574 413.58 575 414.25 C576 414.92 577 415.54 578 416 C579 416.46 579.83 416.75 581 417 C582.17 417.25 584.33 417.42 585 417.5 L585 417.6 Z" fill="#b1b1b1" shape-rendering="crispEdges"/>
<path d="M467 460.3 L467 460.4 C467.83 460.25 470.33 459.9 472 459.5 C473.67 459.1 475.33 458.5 477 458 C478.67 457.5 480.5 456.87 482 456.5 C483.5 456.13 484.67 455.88 486 455.8 C487.33 455.72 488.67 455.83 490 456 C491.33 456.17 492.67 456.63 494 456.8 C495.33 456.97 496.67 457.1 498 457 C499.33 456.9 500.67 456.57 502 456.2 C503.33 455.83 504.67 455.33 506 454.8 C507.33 454.27 508.67 453.63 510 453 C511.33 452.37 512.67 451.75 514 451 C515.33 450.25 516.83 449.5 518 448.5 C519.17 447.5 520 446.58 521 445 C522 443.42 523 441.08 524 439 C525 436.92 526 434.42 527 432.5 C528 430.58 529 428.83 530 427.5 C531 426.17 532 425.25 533 424.5 C534 423.75 535 423.3 536 423 C537 422.7 538 422.53 539 422.7 C540 422.87 541 423.2 542 424 C543 424.8 544 426.08 545 427.5 C546 428.92 547 430.58 548 432.5 C549 434.42 550 436.92 551 439 C552 441.08 552.83 443.17 554 445 C555.17 446.83 556.67 448.85 558 450 C559.33 451.15 560.83 451.65 562 451.9 C563.17 452.15 564 451.86 565 451.5 C566 451.14 567 450.38 568 449.75 C569 449.12 570 448.33 571 447.75 C572 447.17 573 446.67 574 446.25 C575 445.83 576 445.46 577 445.25 C578 445.04 579 444.94 580 445 C581 445.06 582 445.28 583 445.6 C584 445.92 585 446.48 586 446.9 C587 447.32 588 447.75 589 448.1 C590 448.45 591 448.85 592 449 C593 449.15 594 449.15 595 449 C596 448.85 597 448.39 598 448.1 C599 447.81 600 447.45 601 447.25 C602 447.05 603 446.82 604 446.9 C605 446.98 606 447.23 607 447.75 C608 448.27 609 449.11 610 450 C611 450.89 612 452.17 613 453.1 C614 454.03 615 454.87 616 455.6 C617 456.33 618 456.98 619 457.5 C620 458.02 620.83 458.4 622 458.75 C623.17 459.1 624.5 459.36 626 459.6 C627.5 459.84 630.17 460.1 631 460.2 L631 460.3 Z" fill="#b1b1b1"/>
<path d="M467 460.3 L467 460.4 C467.83 460.25 470.33 459.9 472 459.5 C473.67 459.1 475.33 458.5 477 458 C478.67 457.5 480.5 456.87 482 456.5 C483.5 456.13 484.67 455.88 486 455.8 C487.33 455.72 488.67 455.83 490 456 C491.33 456.17 492.67 456.63 494 456.8 C495.33 456.97 496.67 457.1 498 457 C499.33 456.9 500.67 456.57 502 456.2 C503.33 455.83 504.67 455.33 506 454.8 C507.33 454.27 508.67 453.63 510 453 C511.33 452.37 512.67 451.75 514 451 C515.33 450.25 516.83 449.5 518 448.5 C519.17 447.5 520 446.58 521 445 C522 443.42 523 441.08 524 439 C525 436.92 526 434.42 527 432.5 C528 430.58 529 428.83 530 427.5 C531 426.17 532 425.25 533 424.5 C534 423.75 535 423.3 536 423 C537 422.7 538 422.53 539 422.7 C540 422.87 541 423.2 542 424 C543 424.8 544 426.08 545 427.5 C546 428.92 547 430.58 548 432.5 C549 434.42 550 436.92 551 439 C552 441.08 552.83 443.17 554 445 C555.17 446.83 556.67 448.85 558 450 C559.33 451.15 560.83 451.65 562 451.9 C563.17 452.15 564 451.86 565 451.5 C566 451.14 567 450.38 568 449.75 C569 449.12 570 448.33 571 447.75 C572 447.17 573 446.67 574 446.25 C575 445.83 576 445.46 577 445.25 C578 445.04 579 444.94 580 445 C581 445.06 582 445.28 583 445.6 C584 445.92 585 446.48 586 446.9 C587 447.32 588 447.75 589 448.1 C590 448.45 591 448.85 592 449 C593 449.15 594 449.15 595 449 C596 448.85 597 448.39 598 448.1 C599 447.81 600 447.45 601 447.25 C602 447.05 603 446.82 604 446.9 C605 446.98 606 447.23 607 447.75 C608 448.27 609 449.11 610 450 C611 450.89 612 452.17 613 453.1 C614 454.03 615 454.87 616 455.6 C617 456.33 618 456.98 619 457.5 C620 458.02 620.83 458.4 622 458.75 C623.17 459.1 624.5 459.36 626 459.6 C627.5 459.84 630.17 460.1 631 460.2 L631 460.3 Z" fill="#b1b1b1" shape-rendering="crispEdges"/>
<circle cx="477" cy="399.2" r="1.55" fill="#000"/>
<circle cx="507.5" cy="397.2" r="1.55" fill="#000"/>
<circle cx="511.6" cy="400.8" r="1.55" fill="#000"/>
<circle cx="514.4" cy="400.8" r="1.55" fill="#000"/>
<circle cx="518" cy="397" r="1.55" fill="#000"/>
<circle cx="522.6" cy="395" r="1.55" fill="#000"/>
<circle cx="526.6" cy="399.1" r="1.55" fill="#000"/>
<circle cx="526.6" cy="402.7" r="1.55" fill="#000"/>
<circle cx="541.3" cy="397.2" r="1.55" fill="#000"/>
<circle cx="540.6" cy="401" r="1.55" fill="#000"/>
<circle cx="548.9" cy="395.4" r="1.55" fill="#000"/>
<circle cx="554.8" cy="399.1" r="1.55" fill="#000"/>
<circle cx="551.7" cy="402.7" r="1.55" fill="#000"/>
<circle cx="566.5" cy="399.1" r="1.55" fill="#000"/>
<circle cx="487.2" cy="441.5" r="1.55" fill="#000"/>
<circle cx="508.2" cy="441.5" r="1.55" fill="#000"/>
<circle cx="517.5" cy="441.5" r="1.55" fill="#000"/>
<circle cx="529.8" cy="437.8" r="1.55" fill="#000"/>
<circle cx="529.8" cy="441.5" r="1.55" fill="#000"/>
<circle cx="529.8" cy="445" r="1.55" fill="#000"/>
<circle cx="534" cy="438" r="1.55" fill="#000"/>
<circle cx="536" cy="443" r="1.55" fill="#000"/>
<circle cx="538.1" cy="443.1" r="1.55" fill="#000"/>
<circle cx="540" cy="446" r="1.55" fill="#000"/>
<circle cx="546.25" cy="439.4" r="1.55" fill="#000"/>
<circle cx="546.25" cy="443.1" r="1.55" fill="#000"/>
<circle cx="551.6" cy="441.5" r="1.55" fill="#000"/>
<circle cx="560.6" cy="441.5" r="1.55" fill="#000"/>
<circle cx="576.25" cy="441.5" r="1.55" fill="#000"/>
<circle cx="587.5" cy="439.4" r="1.55" fill="#000"/>
<circle cx="585" cy="443.5" r="1.55" fill="#000"/>
<circle cx="601.25" cy="441.5" r="1.55" fill="#000"/>
<circle cx="607.25" cy="439.4" r="1.55" fill="#000"/>
<circle cx="607.25" cy="443.5" r="1.55" fill="#000"/>
<rect x="514.4" y="392.4" width="34" height="12.8" fill="rgba(102,114,53,0.72)" stroke="#4d5530" stroke-width="0.9"/>
<rect x="531" y="435.4" width="45.25" height="12.1" fill="rgba(200,210,30,0.78)" stroke="#5a6218" stroke-width="0.9"/>
<circle cx="728.5" cy="314.2" r="2.7" fill="#000"/>
<circle cx="762.5" cy="314.2" r="2.7" fill="#000"/>
<circle cx="568" cy="356.5" r="2.7" fill="#000"/>
<line x1="462" y1="271" x2="462" y2="484.25" stroke="#2a2a2a" stroke-width="1.7"/>
<line x1="461.15" y1="483.4" x2="799" y2="483.4" stroke="#2a2a2a" stroke-width="1.7"/>
<line x1="482.75" y1="483.4" x2="482.75" y2="479.4" stroke="#2a2a2a" stroke-width="1.2"/>
<text transform="translate(483.15 496.9) scale(1.000 1)" font-size="9.7" fill="#333" text-anchor="middle" stroke="#333" stroke-width="0.25">0.1</text>
<line x1="553.9" y1="483.4" x2="553.9" y2="479.4" stroke="#2a2a2a" stroke-width="1.2"/>
<text transform="translate(554.3 496.9) scale(1.000 1)" font-size="9.7" fill="#333" text-anchor="middle" stroke="#333" stroke-width="0.25">0.15</text>
<line x1="625.05" y1="483.4" x2="625.05" y2="479.4" stroke="#2a2a2a" stroke-width="1.2"/>
<text transform="translate(625.45 496.9) scale(1.000 1)" font-size="9.7" fill="#333" text-anchor="middle" stroke="#333" stroke-width="0.25">0.2</text>
<line x1="696.2" y1="483.4" x2="696.2" y2="479.4" stroke="#2a2a2a" stroke-width="1.2"/>
<text transform="translate(696.6 496.9) scale(1.000 1)" font-size="9.7" fill="#333" text-anchor="middle" stroke="#333" stroke-width="0.25">0.25</text>
<line x1="767.35" y1="483.4" x2="767.35" y2="479.4" stroke="#2a2a2a" stroke-width="1.2"/>
<text transform="translate(767.75 496.9) scale(1.000 1)" font-size="9.7" fill="#333" text-anchor="middle" stroke="#333" stroke-width="0.25">0.3</text>
<line x1="462" y1="314.2" x2="466" y2="314.2" stroke="#2a2a2a" stroke-width="1.2"/>
<text transform="translate(457.8 318.1) scale(0.920 1)" font-size="9.7" fill="#333" text-anchor="end" stroke="#333" stroke-width="0.25">CLIS</text>
<line x1="462" y1="356.8" x2="466" y2="356.8" stroke="#2a2a2a" stroke-width="1.2"/>
<text transform="translate(457.8 360.7) scale(0.920 1)" font-size="9.7" fill="#333" text-anchor="end" stroke="#333" stroke-width="0.25">LIS</text>
<line x1="462" y1="399.3" x2="466" y2="399.3" stroke="#2a2a2a" stroke-width="1.2"/>
<text transform="translate(457.8 403.2) scale(0.920 1)" font-size="9.7" fill="#333" text-anchor="end" stroke="#333" stroke-width="0.25">non-LIS</text>
<line x1="462" y1="441.8" x2="466" y2="441.8" stroke="#2a2a2a" stroke-width="1.2"/>
<text transform="translate(457.8 445.7) scale(0.920 1)" font-size="9.7" fill="#333" text-anchor="end" stroke="#333" stroke-width="0.25">HC</text>
<text transform="translate(615.7 509.6) scale(0.967 1)" font-size="10.2" fill="#333" text-anchor="start" stroke="#333" stroke-width="0.2">cvLZC</text>
<text transform="translate(242.2 535.6) scale(0.900 1)" font-size="16" fill="#111" text-anchor="start" stroke="#111" stroke-width="0.2">e</text>
<g stroke="#e4e4e4" stroke-width="0.9">
<line x1="290.5" y1="571.27" x2="579.5" y2="571.27"/>
<line x1="290.5" y1="618.93" x2="579.5" y2="618.93"/>
<line x1="290.5" y1="666.6" x2="579.5" y2="666.6"/>
<line x1="290.5" y1="714.27" x2="579.5" y2="714.27"/>
<line x1="290.5" y1="761.93" x2="579.5" y2="761.93"/>
<line x1="485.6" y1="523.6" x2="485.6" y2="809.6"/>
<line x1="544.9" y1="523.6" x2="544.9" y2="809.6"/>
</g>
<svg x="290.5" y="523.6" width="289" height="286" viewBox="290.5 523.6 289 286" overflow="hidden">
<path d="M290.6 618 C292.58 618.54 298.43 620.29 302.5 621.25 C306.57 622.21 310.83 622.71 315 623.75 C319.17 624.79 323.33 626.14 327.5 627.5 C331.67 628.86 335.83 630.65 340 631.9 C344.17 633.15 348.33 633.86 352.5 635 C356.67 636.14 360.83 637.33 365 638.75 C369.17 640.17 374.17 642.46 377.5 643.5 C380.83 644.54 382.5 644.5 385 645 C387.5 645.5 389.17 645.35 392.5 646.5 C395.83 647.65 400.83 649.44 405 651.9 C409.17 654.36 413.33 658.86 417.5 661.25 C421.67 663.64 425.83 664.79 430 666.25 C434.17 667.71 439.17 669.17 442.5 670 C445.83 670.83 448.08 671.75 450 671.25 C451.92 670.75 452.75 669.08 454 667 C455.25 664.92 456.33 661.25 457.5 658.75 C458.67 656.25 459.75 653.96 461 652 C462.25 650.04 463.5 648.67 465 647 C466.5 645.33 468.33 642.67 470 642 C471.67 641.33 473.4 643 475 643 C476.6 643 478.14 641.75 479.6 642 C481.06 642.25 482.14 644.28 483.75 644.5 C485.36 644.72 487.42 643.62 489.25 643.3 C491.08 642.98 493.14 642.94 494.75 642.6 C496.36 642.26 497.52 640.1 498.9 641.25 C500.27 642.4 501.63 645.38 503 649.5 C504.37 653.62 505.72 660.92 507.1 666 C508.48 671.08 510.15 676.58 511.3 680 C512.45 683.42 512.88 685 514 686.5 C515.12 688 516.62 688.48 518 689 C519.38 689.52 519.98 689.38 522.3 689.6 C524.62 689.82 529.15 689.61 531.9 690.3 C534.65 690.99 536.5 692.25 538.8 693.75 C541.1 695.25 543.42 697.47 545.7 699.3 C547.98 701.13 549.98 702.7 552.5 704.75 C555.02 706.8 558.05 709.31 560.8 711.6 C563.55 713.89 565.87 715.97 569 718.5 C572.13 721.03 577.83 725.42 579.6 726.8 L579.6 762.5 C578.75 761.42 576.27 758.17 574.5 756 C572.73 753.83 570.83 751.62 569 749.5 C567.17 747.38 565.33 745.72 563.5 743.3 C561.67 740.88 559.83 737.53 558 735 C556.17 732.47 554.78 730.38 552.5 728.1 C550.22 725.82 546.72 722.9 544.3 721.3 C541.88 719.7 540.38 719.38 538 718.5 C535.62 717.62 532.67 716.92 530 716 C527.33 715.08 524.5 714.83 522 713 C519.5 711.17 517.02 707.83 515 705 C512.98 702.17 511.43 699.75 509.9 696 C508.37 692.25 507.18 686.83 505.8 682.5 C504.42 678.17 502.75 672.98 501.6 670 C500.45 667.02 500.04 665.27 498.9 664.6 C497.76 663.93 496.36 665.65 494.75 666 C493.14 666.35 491.08 666.47 489.25 666.7 C487.42 666.93 485.36 667.28 483.75 667.4 C482.14 667.52 480.98 667.87 479.6 667.4 C478.23 666.93 476.68 665.67 475.5 664.6 C474.32 663.53 473.42 662.1 472.5 661 C471.58 659.9 470.75 658 470 658 C469.25 658 468.83 659 468 661 C467.17 663 466.12 666.67 465 670 C463.88 673.33 462.5 678.08 461.25 681 C460 683.92 458.71 685.58 457.5 687.5 C456.29 689.42 455.25 691.25 454 692.5 C452.75 693.75 451.92 694.79 450 695 C448.08 695.21 445.83 694.92 442.5 693.75 C439.17 692.58 434.17 689.62 430 688 C425.83 686.38 421.67 685.33 417.5 684 C413.33 682.67 409.58 682.08 405 680 C400.42 677.92 394.58 673.79 390 671.5 C385.42 669.21 381.67 667.92 377.5 666.25 C373.33 664.58 369.17 662.71 365 661.5 C360.83 660.29 356.67 659.88 352.5 659 C348.33 658.12 344.17 657.5 340 656.25 C335.83 655 331.67 653.21 327.5 651.5 C323.33 649.79 319.17 647.71 315 646 C310.83 644.29 306.57 642.5 302.5 641.25 C298.43 640 292.58 638.96 290.6 638.5 Z" fill="#9a9a9a" fill-opacity="0.5"/>
<path d="M290.6 626.9 C292.58 627.42 298.43 628.86 302.5 630 C306.57 631.14 310.83 632.4 315 633.75 C319.17 635.1 323.33 636.74 327.5 638.1 C331.67 639.46 335.83 640.54 340 641.9 C344.17 643.26 348.33 644.9 352.5 646.25 C356.67 647.6 360.83 648.54 365 650 C369.17 651.46 374.17 653.78 377.5 655 C380.83 656.22 382.5 656.72 385 657.3 C387.5 657.88 390.21 657.88 392.5 658.5 C394.79 659.12 396.67 659.75 398.75 661 C400.83 662.25 401.88 663.88 405 666 C408.12 668.12 413.33 671.62 417.5 673.75 C421.67 675.88 425.83 677.29 430 678.75 C434.17 680.21 439.38 681.79 442.5 682.5 C445.62 683.21 446.67 683.42 448.75 683 C450.83 682.58 452.92 682.17 455 680 C457.08 677.83 459.58 674 461.25 670 C462.92 666 463.88 659.67 465 656 C466.12 652.33 467.17 649.42 468 648 C468.83 646.58 469.25 647 470 647.5 C470.75 648 471.58 649.67 472.5 651 C473.42 652.33 474.32 654.95 475.5 655.5 C476.68 656.05 478.23 654.05 479.6 654.3 C480.98 654.55 482.14 656.88 483.75 657 C485.36 657.12 487.42 655.45 489.25 655 C491.08 654.55 493.14 654.63 494.75 654.3 C496.36 653.97 497.76 652.42 498.9 653 C500.04 653.58 500.68 655.17 501.6 657.8 C502.52 660.42 503.5 665.38 504.4 668.75 C505.3 672.12 506.08 674.79 507 678 C507.92 681.21 508.73 684.58 509.9 688 C511.07 691.42 512.4 696.28 514 698.5 C515.6 700.72 517.2 700.77 519.5 701.3 C521.8 701.83 525.05 701.25 527.8 701.7 C530.55 702.15 533.48 702.57 536 704 C538.52 705.43 540.6 708.33 542.9 710.3 C545.2 712.27 547.52 713.75 549.8 715.8 C552.08 717.85 554.32 719.85 556.6 722.6 C558.88 725.35 561.43 729.77 563.5 732.3 C565.57 734.83 567.17 736.2 569 737.8 C570.83 739.4 572.73 739.83 574.5 741.9 C576.27 743.97 578.75 748.82 579.6 750.2" fill="none" stroke="#6e6e6e" stroke-width="1.1" stroke-linejoin="round"/>
<path d="M290.6 626.5 C292.58 627.08 298.43 628.67 302.5 630 C306.57 631.33 310.83 632.83 315 634.5 C319.17 636.17 323.33 638.25 327.5 640 C331.67 641.75 335.83 643.5 340 645 C344.17 646.5 348.33 647.67 352.5 649 C356.67 650.33 360.83 651.5 365 653 C369.17 654.5 373.33 656.17 377.5 658 C381.67 659.83 385.42 661.67 390 664 C394.58 666.33 400.42 670 405 672 C409.58 674 413.33 674.67 417.5 676 C421.67 677.33 425.83 679.33 430 680 C434.17 680.67 439.38 680.83 442.5 680 C445.62 679.17 446.67 677.92 448.75 675 C450.83 672.08 453.29 666.17 455 662.5 C456.71 658.83 457.75 655.92 459 653 C460.25 650.08 461.42 647.67 462.5 645 C463.58 642.33 464.5 639.67 465.5 637 C466.5 634.33 467.38 631.33 468.5 629 C469.62 626.67 471.12 624.25 472.25 623 C473.38 621.75 474.12 622.38 475.25 621.5 C476.38 620.62 477.88 617.75 479 617.75 C480.12 617.75 481 619.71 482 621.5 C483 623.29 484.12 627 485 628.5 C485.88 630 486.5 631.17 487.25 630.5 C488 629.83 488.88 624.58 489.5 624.5 C490.12 624.42 490.58 627.42 491 630 C491.42 632.58 491.38 633.67 492 640 C492.62 646.33 493.37 661.83 494.75 668 C496.13 674.17 498.46 674.33 500.3 677 C502.14 679.67 503.97 681.67 505.8 684 C507.63 686.33 509.47 688.68 511.3 691 C513.13 693.32 514.52 696.98 516.8 697.9 C519.08 698.82 522.03 696.5 525 696.5 C527.97 696.5 531.85 696.98 534.6 697.9 C537.35 698.82 538.97 700.63 541.5 702 C544.03 703.37 547.05 704.72 549.8 706.1 C552.55 707.48 555.25 708.68 558 710.3 C560.75 711.92 563.55 713.97 566.3 715.8 C569.05 717.63 572.28 719.7 574.5 721.3 C576.72 722.9 578.75 724.72 579.6 725.4 L579.6 749.5 C578.3 748.67 574.48 746.25 571.8 744.5 C569.12 742.75 566.25 740.78 563.5 739 C560.75 737.22 558.05 735.38 555.3 733.8 C552.55 732.22 549.75 731.37 547 729.5 C544.25 727.63 541.32 724.43 538.8 722.6 C536.28 720.77 534.65 719.63 531.9 718.5 C529.15 717.37 525.28 716.48 522.3 715.8 C519.32 715.12 515.88 715.37 514 714.4 C512.12 713.43 512.37 712.4 511 710 C509.63 707.6 507.55 702.83 505.8 700 C504.05 697.17 502.33 695.83 500.5 693 C498.67 690.17 496.22 687.17 494.8 683 C493.38 678.83 492.67 673.17 492 668 C491.33 662.83 491.26 655.77 490.8 652 C490.34 648.23 489.97 646.07 489.25 645.4 C488.53 644.73 487.42 648.4 486.5 648 C485.58 647.6 484.9 644.42 483.75 643 C482.6 641.58 480.89 640.08 479.6 639.5 C478.31 638.92 476.98 639.42 476 639.5 C475.02 639.58 474.75 639.08 473.75 640 C472.75 640.92 471.29 642.67 470 645 C468.71 647.33 467.46 650.67 466 654 C464.54 657.33 463.08 661.33 461.25 665 C459.42 668.67 456.88 672.58 455 676 C453.12 679.42 451.67 682.25 450 685.5 C448.33 688.75 446.25 693.29 445 695.5 C443.75 697.71 443.75 697.95 442.5 698.75 C441.25 699.55 439.58 700.17 437.5 700.3 C435.42 700.42 433.33 699.97 430 699.5 C426.67 699.03 421.67 698.33 417.5 697.5 C413.33 696.67 409.17 695.83 405 694.5 C400.83 693.17 395.83 690.92 392.5 689.5 C389.17 688.08 387.5 687.42 385 686 C382.5 684.58 379.79 682.5 377.5 681 C375.21 679.5 373.33 678.33 371.25 677 C369.17 675.67 368.12 674.38 365 673 C361.88 671.62 356.67 670.08 352.5 668.75 C348.33 667.42 344.17 666.46 340 665 C335.83 663.54 331.67 661.67 327.5 660 C323.33 658.33 319.17 656.46 315 655 C310.83 653.54 306.57 652.42 302.5 651.25 C298.43 650.08 292.58 648.54 290.6 648 Z" fill="#8c8cf5" fill-opacity="0.45"/>
<path d="M290.6 637.5 C292.58 638.02 298.43 639.14 302.5 640.6 C306.57 642.06 310.83 644.27 315 646.25 C319.17 648.23 323.33 650.62 327.5 652.5 C331.67 654.38 335.83 656.04 340 657.5 C344.17 658.96 349.17 660.21 352.5 661.25 C355.83 662.29 357.92 662.71 360 663.75 C362.08 664.79 363.12 666.25 365 667.5 C366.88 668.75 369.17 670.21 371.25 671.25 C373.33 672.29 375.38 672.88 377.5 673.75 C379.62 674.62 381.71 675.46 384 676.5 C386.29 677.54 388.79 678.79 391.25 680 C393.71 681.21 395.42 682.5 398.75 683.75 C402.08 685 407.08 686.46 411.25 687.5 C415.42 688.54 419.58 689.38 423.75 690 C427.92 690.62 433.12 691.17 436.25 691.25 C439.38 691.33 440.62 691.29 442.5 690.5 C444.38 689.71 446.08 688.17 447.5 686.5 C448.92 684.83 449.75 682.42 451 680.5 C452.25 678.58 453.67 677.08 455 675 C456.33 672.92 457.75 670.5 459 668 C460.25 665.5 461.29 663.17 462.5 660 C463.71 656.83 465.25 652.17 466.25 649 C467.25 645.83 467.75 643.33 468.5 641 C469.25 638.67 470 636.32 470.75 635 C471.5 633.68 472.25 633.48 473 633.1 C473.75 632.73 474.5 633.31 475.25 632.75 C476 632.19 476.75 630.62 477.5 629.75 C478.25 628.88 479 627.5 479.75 627.5 C480.5 627.5 481.25 628.25 482 629.75 C482.75 631.25 483.5 634.5 484.25 636.5 C485 638.5 485.88 641.5 486.5 641.75 C487.12 642 487.5 639.12 488 638 C488.5 636.88 489 634.88 489.5 635 C490 635.12 490.5 636.25 491 638.75 C491.5 641.25 492 644.79 492.5 650 C493 655.21 493.17 664.83 494 670 C494.83 675.17 496 677.98 497.5 681 C499 684.02 501.17 685.27 503 688.1 C504.83 690.93 506.9 695.35 508.5 698 C510.1 700.65 511 702.77 512.6 704 C514.2 705.23 515.57 705.05 518.1 705.4 C520.63 705.75 524.82 705.75 527.8 706.1 C530.78 706.45 533.48 706.8 536 707.5 C538.52 708.2 540.83 709.38 542.9 710.3 C544.97 711.22 546.33 711.87 548.4 713 C550.47 714.13 552.78 715.5 555.3 717.1 C557.82 718.7 560.98 720.87 563.5 722.6 C566.02 724.33 567.72 725.02 570.4 727.5 C573.08 729.98 578.07 735.83 579.6 737.5" fill="none" stroke="#2f80cc" stroke-width="1.4" stroke-linejoin="round"/>
<path d="M290.6 621.25 C292.58 621.88 298.43 623.54 302.5 625 C306.57 626.46 310.83 628.12 315 630 C319.17 631.88 324.17 634.38 327.5 636.25 C330.83 638.12 332.92 639.58 335 641.25 C337.08 642.92 338.12 644.58 340 646.25 C341.88 647.92 344.17 649.79 346.25 651.25 C348.33 652.71 350.42 653.54 352.5 655 C354.58 656.46 356.67 658.33 358.75 660 C360.83 661.67 362.92 663.12 365 665 C367.08 666.88 369.17 669.17 371.25 671.25 C373.33 673.33 375.42 675.62 377.5 677.5 C379.58 679.38 381.67 681.15 383.75 682.5 C385.83 683.85 387.5 684.56 390 685.6 C392.5 686.64 396.25 687.81 398.75 688.75 C401.25 689.69 403.12 690.21 405 691.25 C406.88 692.29 408.33 693.54 410 695 C411.67 696.46 413.33 698.33 415 700 C416.67 701.67 417.92 703.54 420 705 C422.08 706.46 425.21 707.71 427.5 708.75 C429.79 709.79 432 710.88 433.75 711.25 C435.5 711.62 436.79 711.38 438 711 C439.21 710.62 440.04 709.83 441 709 C441.96 708.17 442.92 707.33 443.75 706 C444.58 704.67 445.29 703 446 701 C446.71 699 447.33 696.5 448 694 C448.67 691.5 449.33 689 450 686 C450.67 683 451.33 679.33 452 676 C452.67 672.67 453.33 669.17 454 666 C454.67 662.83 455.33 660.17 456 657 C456.67 653.83 457.29 651.75 458 647 C458.71 642.25 459.5 634.17 460.25 628.5 C461 622.83 461.75 616.92 462.5 613 C463.25 609.08 464.1 606.65 464.75 605 C465.4 603.35 465.77 602.85 466.4 603.1 C467.02 603.35 467.77 604.31 468.5 606.5 C469.23 608.69 470.12 612.75 470.75 616.25 C471.38 619.75 471.75 623.75 472.25 627.5 C472.75 631.25 473.21 634.33 473.75 638.75 C474.29 643.17 474.88 649.29 475.5 654 C476.12 658.71 476.82 663 477.5 667 C478.18 671 478.78 674.33 479.6 678 C480.42 681.67 481.25 685.75 482.4 689 C483.55 692.25 484.67 694.77 486.5 697.5 C488.33 700.23 490.88 703.5 493.4 705.4 C495.92 707.3 498.62 707.97 501.6 708.9 C504.58 709.83 508.9 710.4 511.3 711 C513.7 711.6 514.63 712.17 516 712.5 C517.37 712.83 518.45 713.15 519.5 713 C520.55 712.85 521.38 711.43 522.3 711.6 C523.22 711.77 524.08 713.08 525 714 C525.92 714.92 526.42 715.43 527.8 717.1 C529.18 718.77 531.47 722.38 533.3 724 C535.13 725.62 536.97 725.77 538.8 726.8 C540.63 727.83 542.77 729.67 544.3 730.2 C545.83 730.73 546.63 729.77 548 730 C549.37 730.23 551.17 731.35 552.5 731.6 C553.83 731.85 554.85 731.52 556 731.5 C557.15 731.48 558.23 731.62 559.4 731.5 C560.57 731.38 561.85 731.12 563 730.8 C564.15 730.48 565.13 729.98 566.3 729.6 C567.47 729.22 568.85 728.97 570 728.5 C571.15 728.03 572.2 726.92 573.2 726.8 C574.2 726.68 574.93 727.68 576 727.8 C577.07 727.92 579 727.55 579.6 727.5" fill="none" stroke="#18996b" stroke-width="1.35" stroke-linejoin="round"/>
<path d="M290.6 630 C292.58 630.42 298.43 631.46 302.5 632.5 C306.57 633.54 310.83 635 315 636.25 C319.17 637.5 323.75 638.86 327.5 640 C331.25 641.14 334.38 642.37 337.5 643.1 C340.62 643.83 343.33 644.4 346.25 644.4 C349.17 644.4 351.88 644.25 355 643.1 C358.12 641.95 362.29 638.75 365 637.5 C367.71 636.25 369.17 636.6 371.25 635.6 C373.33 634.6 375.88 632.93 377.5 631.5 C379.12 630.07 379.92 628.75 381 627 C382.08 625.25 383 623.67 384 621 C385 618.33 386 615.17 387 611 C388 606.83 389.08 601.17 390 596 C390.92 590.83 391.67 585.17 392.5 580 C393.33 574.83 394.17 569 395 565 C395.83 561 396.46 558.27 397.5 556 C398.54 553.73 400 551.57 401.25 551.4 C402.5 551.23 403.96 553.07 405 555 C406.04 556.93 406.71 558.83 407.5 563 C408.29 567.17 408.92 573.83 409.75 580 C410.58 586.17 411.56 593.83 412.5 600 C413.44 606.17 414.48 611.17 415.4 617 C416.32 622.83 417.15 628.67 418 635 C418.85 641.33 419.58 648.67 420.5 655 C421.42 661.33 422.42 667.67 423.5 673 C424.58 678.33 425.71 682.71 427 687 C428.29 691.29 429.92 695.33 431.25 698.75 C432.58 702.17 433.75 704.79 435 707.5 C436.25 710.21 437.29 712.92 438.75 715 C440.21 717.08 442.29 718.96 443.75 720 C445.21 721.04 446.25 721.46 447.5 721.25 C448.75 721.04 449.79 720.21 451.25 718.75 C452.71 717.29 454.58 714.58 456.25 712.5 C457.92 710.42 459.58 707.75 461.25 706.25 C462.92 704.75 464.79 704.79 466.25 703.5 C467.71 702.21 468.96 700.25 470 698.5 C471.04 696.75 471.62 694.62 472.5 693 C473.38 691.38 474.33 688.67 475.3 688.8 C476.27 688.92 477.35 690.63 478.3 693.75 C479.25 696.87 480.09 702.91 481 707.5 C481.91 712.09 482.6 716.25 483.75 721.3 C484.9 726.35 486.52 733.22 487.9 737.8 C489.27 742.38 490.4 745.13 492 748.8 C493.6 752.47 495.67 756.18 497.5 759.8 C499.33 763.42 501.17 767.75 503 770.5 C504.83 773.25 507 774.72 508.5 776.3 C510 777.88 510.78 778.62 512 780 C513.22 781.38 514.47 783.52 515.8 784.6 C517.13 785.68 518.63 785.8 520 786.5 C521.37 787.2 522.67 788.22 524 788.8 C525.33 789.38 526.62 789.55 528 790 C529.38 790.45 530.67 790.45 532.3 791.5 C533.93 792.55 536.35 795.55 537.8 796.3 C539.25 797.05 539.87 795.88 541 796 C542.13 796.12 543.43 796.75 544.6 797 C545.77 797.25 546.62 797.27 548 797.5 C549.38 797.73 551.4 798.32 552.9 798.4 C554.4 798.48 555.4 797.88 557 798 C558.6 798.12 561.12 798.47 562.5 799.1 C563.88 799.73 564.22 801.48 565.3 801.8 C566.38 802.12 567.63 801.22 569 801 C570.37 800.78 571.73 800.93 573.5 800.5 C575.27 800.07 578.58 798.75 579.6 798.4" fill="none" stroke="#ad2a48" stroke-width="1.35" stroke-linejoin="round"/>
<path d="M290.6 564.4 C291.75 564.96 295.35 566.5 297.5 567.75 C299.65 569 301.5 570.27 303.5 571.9 C305.5 573.52 307.5 575.57 309.5 577.5 C311.5 579.43 313.5 581.5 315.5 583.5 C317.5 585.5 319.5 587.57 321.5 589.5 C323.5 591.43 325.5 593.35 327.5 595.1 C329.5 596.85 331.5 598.62 333.5 600 C335.5 601.38 337.5 602.27 339.5 603.4 C341.5 604.52 343.75 605.75 345.5 606.75 C347.25 607.75 348.67 608.36 350 609.4 C351.33 610.44 352.04 611.23 353.5 613 C354.96 614.77 356.83 617.38 358.75 620 C360.67 622.62 362.92 625.75 365 628.75 C367.08 631.75 369.17 634.96 371.25 638 C373.33 641.04 375.42 644 377.5 647 C379.58 650 381.67 653.21 383.75 656 C385.83 658.79 387.96 661.25 390 663.75 C392.04 666.25 394.17 668.79 396 671 C397.83 673.21 399.5 675.42 401 677 C402.5 678.58 403.5 679.47 405 680.5 C406.5 681.53 408.33 682.55 410 683.2 C411.67 683.85 413.33 684.38 415 684.4 C416.67 684.42 418.33 683.95 420 683.3 C421.67 682.65 423.33 681.55 425 680.5 C426.67 679.45 427.92 678.67 430 677 C432.08 675.33 435.42 672.08 437.5 670.5 C439.58 668.92 441.08 668.92 442.5 667.5 C443.92 666.08 444.79 665.04 446 662 C447.21 658.96 448.75 652.62 449.75 649.25 C450.75 645.88 451.19 643.44 452 641.75 C452.81 640.06 453.73 638.73 454.6 639.1 C455.48 639.48 456.62 642.18 457.25 644 C457.88 645.82 457.94 647.83 458.4 650 C458.86 652.17 459.4 653.33 460 657 C460.6 660.67 461.33 666.5 462 672 C462.67 677.5 463.29 684.67 464 690 C464.71 695.33 465.46 699.17 466.25 704 C467.04 708.83 467.71 714.25 468.75 719 C469.79 723.75 471.25 728.17 472.5 732.5 C473.75 736.83 475 740.83 476.25 745 C477.5 749.17 478.98 754.58 480 757.5 C481.02 760.42 481.32 761.2 482.4 762.5 C483.48 763.8 485.13 763.92 486.5 765.3 C487.87 766.68 489.22 769.43 490.6 770.8 C491.98 772.17 493.18 772.67 494.8 773.5 C496.42 774.33 498.47 775.05 500.3 775.8 C502.13 776.55 503.97 777.38 505.8 778 C507.63 778.62 509.63 778.62 511.3 779.5 C512.97 780.38 514.35 782.13 515.8 783.3 C517.25 784.47 518.63 785.58 520 786.5 C521.37 787.42 522.67 788.3 524 788.8 C525.33 789.3 526.62 789.05 528 789.5 C529.38 789.95 530.97 790.83 532.3 791.5 C533.63 792.17 534.87 792.92 536 793.5 C537.13 794.08 538.18 795.25 539.1 795 C540.02 794.75 540.58 792.7 541.5 792 C542.42 791.3 543.52 790.88 544.6 790.8 C545.68 790.72 546.85 791.27 548 791.5 C549.15 791.73 550.33 792.28 551.5 792.2 C552.67 792.12 553.85 791.23 555 791 C556.15 790.77 557.23 790.47 558.4 790.8 C559.57 791.13 560.85 792.3 562 793 C563.15 793.7 564.13 794.5 565.3 795 C566.47 795.5 567.63 795.67 569 796 C570.37 796.33 571.95 796.48 573.5 797 C575.05 797.52 577.28 799.43 578.3 799.1 C579.32 798.77 579.38 795.68 579.6 795" fill="none" stroke="#f29b1f" stroke-width="1.35" stroke-linejoin="round"/>
</svg>
<rect x="290.5" y="523.6" width="289" height="286" fill="none" stroke="#8a8a8a" stroke-width="1.1"/>
<line x1="290.5" y1="523.6" x2="293.5" y2="523.6" stroke="#8a8a8a" stroke-width="1"/>
<line x1="579.5" y1="523.6" x2="576.5" y2="523.6" stroke="#8a8a8a" stroke-width="1"/>
<text transform="translate(285.6 529.1) scale(1.000 1)" font-size="13.1" fill="#262626" text-anchor="end" stroke="#262626" stroke-width="0.2">-2</text>
<line x1="290.5" y1="571.27" x2="293.5" y2="571.27" stroke="#8a8a8a" stroke-width="1"/>
<line x1="579.5" y1="571.27" x2="576.5" y2="571.27" stroke="#8a8a8a" stroke-width="1"/>
<text transform="translate(285.6 576.77) scale(1.000 1)" font-size="13.1" fill="#262626" text-anchor="end" stroke="#262626" stroke-width="0.2">-2.5</text>
<line x1="290.5" y1="618.93" x2="293.5" y2="618.93" stroke="#8a8a8a" stroke-width="1"/>
<line x1="579.5" y1="618.93" x2="576.5" y2="618.93" stroke="#8a8a8a" stroke-width="1"/>
<text transform="translate(285.6 624.43) scale(1.000 1)" font-size="13.1" fill="#262626" text-anchor="end" stroke="#262626" stroke-width="0.2">-3</text>
<line x1="290.5" y1="666.6" x2="293.5" y2="666.6" stroke="#8a8a8a" stroke-width="1"/>
<line x1="579.5" y1="666.6" x2="576.5" y2="666.6" stroke="#8a8a8a" stroke-width="1"/>
<text transform="translate(285.6 672.1) scale(1.000 1)" font-size="13.1" fill="#262626" text-anchor="end" stroke="#262626" stroke-width="0.2">-3.5</text>
<line x1="290.5" y1="714.27" x2="293.5" y2="714.27" stroke="#8a8a8a" stroke-width="1"/>
<line x1="579.5" y1="714.27" x2="576.5" y2="714.27" stroke="#8a8a8a" stroke-width="1"/>
<text transform="translate(285.6 719.77) scale(1.000 1)" font-size="13.1" fill="#262626" text-anchor="end" stroke="#262626" stroke-width="0.2">-4</text>
<line x1="290.5" y1="761.93" x2="293.5" y2="761.93" stroke="#8a8a8a" stroke-width="1"/>
<line x1="579.5" y1="761.93" x2="576.5" y2="761.93" stroke="#8a8a8a" stroke-width="1"/>
<text transform="translate(285.6 767.43) scale(1.000 1)" font-size="13.1" fill="#262626" text-anchor="end" stroke="#262626" stroke-width="0.2">-4.5</text>
<line x1="290.5" y1="809.6" x2="293.5" y2="809.6" stroke="#8a8a8a" stroke-width="1"/>
<line x1="579.5" y1="809.6" x2="576.5" y2="809.6" stroke="#8a8a8a" stroke-width="1"/>
<text transform="translate(285.6 815.1) scale(1.000 1)" font-size="13.1" fill="#262626" text-anchor="end" stroke="#262626" stroke-width="0.2">-5</text>
<line x1="290.5" y1="809.6" x2="290.5" y2="806.6" stroke="#8a8a8a" stroke-width="1"/>
<line x1="290.5" y1="523.6" x2="290.5" y2="526.6" stroke="#8a8a8a" stroke-width="1"/>
<text transform="translate(290.5 826.4) scale(1.030 1)" font-size="13.1" fill="#262626" text-anchor="middle" stroke="#262626" stroke-width="0.2">0</text>
<line x1="485.6" y1="809.6" x2="485.6" y2="806.6" stroke="#8a8a8a" stroke-width="1"/>
<line x1="485.6" y1="523.6" x2="485.6" y2="526.6" stroke="#8a8a8a" stroke-width="1"/>
<text transform="translate(485.6 826.4) scale(1.030 1)" font-size="13.1" fill="#262626" text-anchor="middle" stroke="#262626" stroke-width="0.2">10</text>
<line x1="544.9" y1="809.6" x2="544.9" y2="806.6" stroke="#8a8a8a" stroke-width="1"/>
<line x1="544.9" y1="523.6" x2="544.9" y2="526.6" stroke="#8a8a8a" stroke-width="1"/>
<text transform="translate(544.9 826.4) scale(1.030 1)" font-size="13.1" fill="#262626" text-anchor="middle" stroke="#262626" stroke-width="0.2">20</text>
<line x1="579.5" y1="809.6" x2="579.5" y2="806.6" stroke="#8a8a8a" stroke-width="1"/>
<line x1="579.5" y1="523.6" x2="579.5" y2="526.6" stroke="#8a8a8a" stroke-width="1"/>
<text transform="translate(579.5 826.4) scale(1.030 1)" font-size="13.1" fill="#262626" text-anchor="middle" stroke="#262626" stroke-width="0.2">30</text>
<text transform="translate(382.6 843.6) scale(1.159 1)" font-size="13.2" fill="#262626" text-anchor="start" stroke="#262626" stroke-width="0.2">Frequency (Hz)</text>
<text transform="translate(256.4 667.2) rotate(-90)" font-size="13.8" fill="#262626" stroke="#262626" stroke-width="0.2" text-anchor="middle">log(PSD)</text>
<rect x="312.3" y="702.3" width="94.5" height="103.2" fill="#fff" stroke="#a8a8a8" stroke-width="1"/>
<line x1="312.3" y1="733.8" x2="406.8" y2="782.7" stroke="#555" stroke-width="1"/>
<line x1="312.3" y1="740.7" x2="406.8" y2="777.5" stroke="#2f80cc" stroke-width="1.1"/>
<line x1="312.3" y1="744.9" x2="406.8" y2="778.4" stroke="#18996b" stroke-width="1.1"/>
<line x1="312.3" y1="733.8" x2="404.4" y2="805.4" stroke="#f29b1f" stroke-width="2"/>
<line x1="312.3" y1="733.8" x2="404.4" y2="805.4" stroke="#c42a22" stroke-width="1.2"/>
<rect x="503.4" y="528.5" width="70.1" height="76.1" fill="#fff" stroke="#8a8a8a" stroke-width="1"/>
<line x1="505.6" y1="536.6" x2="525.6" y2="536.6" stroke="#939393" stroke-width="1.45"/>
<text transform="translate(527.7 541) scale(1.000 1)" font-size="11.9" fill="#1a1a1a" text-anchor="start" stroke="#1a1a1a" stroke-width="0.2">HC</text>
<line x1="505.6" y1="551.5" x2="525.6" y2="551.5" stroke="#58a2de" stroke-width="1.45"/>
<text transform="translate(527.7 555.9) scale(1.000 1)" font-size="11.9" fill="#1a1a1a" text-anchor="start" stroke="#1a1a1a" stroke-width="0.2">non-LIS</text>
<line x1="505.6" y1="566.4" x2="525.6" y2="566.4" stroke="#28a07a" stroke-width="1.45"/>
<text transform="translate(527.7 570.8) scale(1.000 1)" font-size="11.9" fill="#1a1a1a" text-anchor="start" stroke="#1a1a1a" stroke-width="0.2">LIS</text>
<line x1="505.6" y1="581.3" x2="525.6" y2="581.3" stroke="#c04060" stroke-width="1.45"/>
<text transform="translate(527.7 585.7) scale(1.000 1)" font-size="11.9" fill="#1a1a1a" text-anchor="start" stroke="#1a1a1a" stroke-width="0.2">CLIS 1</text>
<line x1="505.6" y1="596.2" x2="525.6" y2="596.2" stroke="#f0a030" stroke-width="1.45"/>
<text transform="translate(527.7 600.6) scale(1.000 1)" font-size="11.9" fill="#1a1a1a" text-anchor="start" stroke="#1a1a1a" stroke-width="0.2">CLIS 2</text>
</svg>
</body></html>
